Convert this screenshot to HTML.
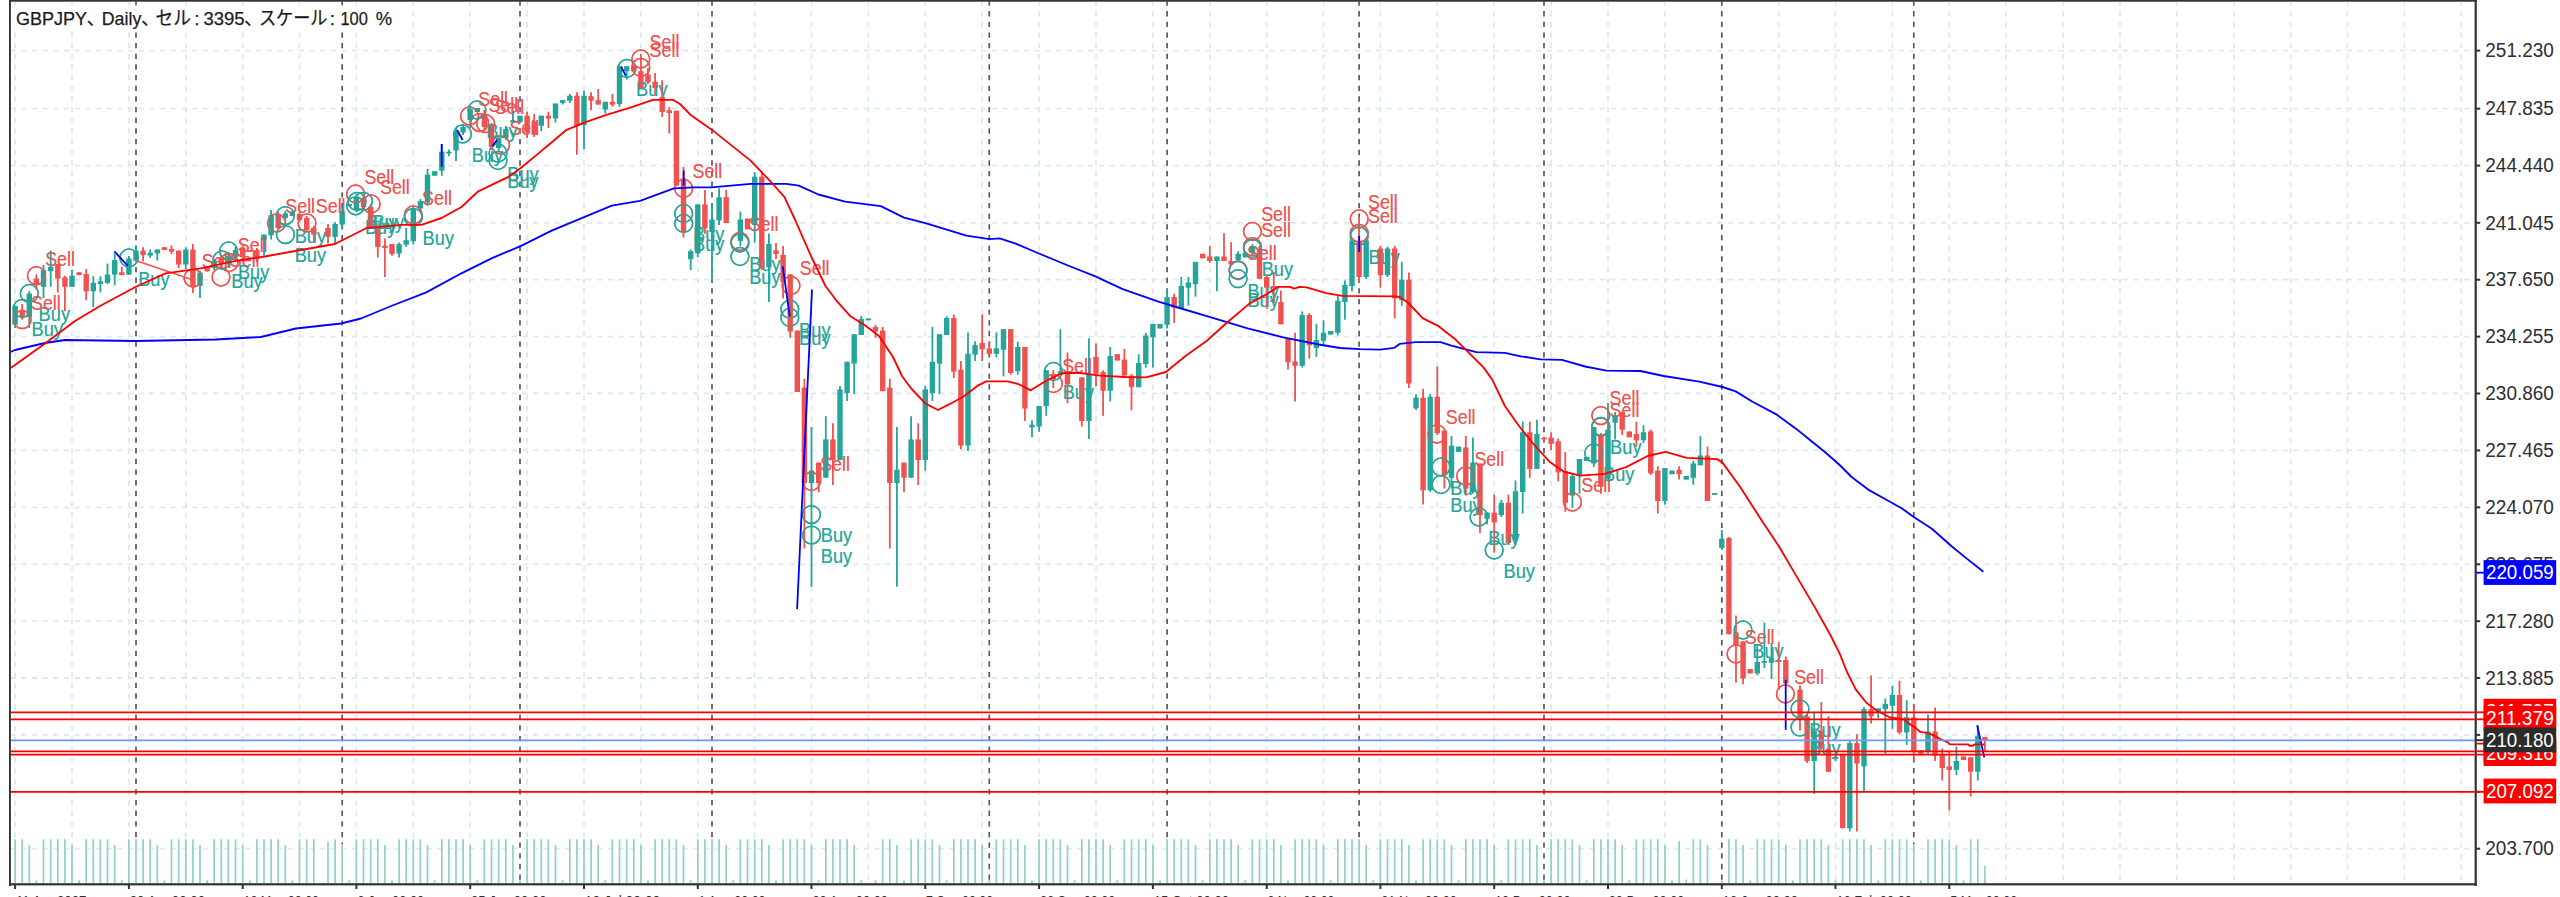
<!DOCTYPE html><html lang="ja"><head><meta charset="utf-8"><title>GBPJPY Daily</title><style>html,body{margin:0;padding:0;background:#fff;overflow:hidden}body{width:2560px;height:897px;position:relative}svg text{font-family:"Liberation Sans","Noto Sans CJK JP",sans-serif}</style></head><body><svg width="2560" height="897" viewBox="0 0 2560 897" style="position:absolute;left:0;top:0;display:block">
<rect width="2560" height="897" fill="#fff"/>
<defs><clipPath id="plot"><rect x="10.6" y="1.6" width="2464" height="882"/></clipPath><clipPath id="all"><rect x="0" y="0" width="2560" height="897"/></clipPath></defs>
<g clip-path="url(#plot)">
<g stroke="#dde9f2" stroke-width="1.8" stroke-dasharray="5.35 5.317" fill="none">
<path d="M15.1 0.3V880"/>
<path d="M72.0 0.3V880"/>
<path d="M128.9 0.3V880"/>
<path d="M185.8 0.3V880"/>
<path d="M242.7 0.3V880"/>
<path d="M299.5 0.3V880"/>
<path d="M356.4 0.3V880"/>
<path d="M413.3 0.3V880"/>
<path d="M470.2 0.3V880"/>
<path d="M527.1 0.3V880"/>
<path d="M584.0 0.3V880"/>
<path d="M640.9 0.3V880"/>
<path d="M697.8 0.3V880"/>
<path d="M754.7 0.3V880"/>
<path d="M811.5 0.3V880"/>
<path d="M868.4 0.3V880"/>
<path d="M925.3 0.3V880"/>
<path d="M982.2 0.3V880"/>
<path d="M1039.1 0.3V880"/>
<path d="M1096.0 0.3V880"/>
<path d="M1152.9 0.3V880"/>
<path d="M1209.8 0.3V880"/>
<path d="M1266.7 0.3V880"/>
<path d="M1323.5 0.3V880"/>
<path d="M1380.4 0.3V880"/>
<path d="M1437.3 0.3V880"/>
<path d="M1494.2 0.3V880"/>
<path d="M1551.1 0.3V880"/>
<path d="M1608.0 0.3V880"/>
<path d="M1664.9 0.3V880"/>
<path d="M1721.8 0.3V880"/>
<path d="M1778.7 0.3V880"/>
<path d="M1835.5 0.3V880"/>
<path d="M1892.4 0.3V880"/>
<path d="M1949.3 0.3V880"/>
<path d="M2006.2 0.3V880"/>
<path d="M2063.1 0.3V880"/>
<path d="M2120.0 0.3V880"/>
<path d="M2176.9 0.3V880"/>
<path d="M2233.8 0.3V880"/>
<path d="M2290.7 0.3V880"/>
<path d="M2347.5 0.3V880"/>
<path d="M2404.4 0.3V880"/>
<path d="M2461.3 0.3V880"/>
<path d="M10.5 50.6H2475"/>
<path d="M10.5 108.7H2475"/>
<path d="M10.5 165.6H2475"/>
<path d="M10.5 222.8H2475"/>
<path d="M10.5 279.7H2475"/>
<path d="M10.5 336.6H2475"/>
<path d="M10.5 393.5H2475"/>
<path d="M10.5 450.4H2475"/>
<path d="M10.5 507.3H2475"/>
<path d="M10.5 564.3H2475"/>
<path d="M10.5 621.2H2475"/>
<path d="M10.5 678.0H2475"/>
<path d="M10.5 734.9H2475"/>
<path d="M10.5 791.8H2475"/>
<path d="M10.5 848.7H2475"/>
</g>
<g stroke="#5a5763" stroke-width="1.7" stroke-dasharray="5.33 5.33" fill="none">
<path d="M136.0 0.4V838.7"/>
<path d="M342.2 0.4V844.5"/>
<path d="M520.0 0.4V879.7"/>
<path d="M712.0 0.4V838.7"/>
<path d="M989.3 0.4V879.7"/>
<path d="M1167.1 0.4V838.7"/>
<path d="M1359.1 0.4V838.7"/>
<path d="M1544.0 0.4V879.7"/>
<path d="M1721.8 0.4V879.7"/>
<path d="M1913.8 0.4V844.5"/>
</g>
<g stroke="#90d0c9" stroke-width="1.7" fill="none">
<path d="M15.1 839.2V884"/>
<path d="M22.2 839.2V884"/>
<path d="M29.3 845.0V884"/>
<path d="M36.4 880.2V884"/>
<path d="M43.5 839.2V884"/>
<path d="M50.7 839.2V884"/>
<path d="M57.8 839.2V884"/>
<path d="M64.9 839.2V884"/>
<path d="M72.0 845.0V884"/>
<path d="M79.1 880.2V884"/>
<path d="M86.2 839.2V884"/>
<path d="M93.3 839.2V884"/>
<path d="M100.4 839.2V884"/>
<path d="M107.5 839.2V884"/>
<path d="M114.7 845.0V884"/>
<path d="M121.8 880.2V884"/>
<path d="M128.9 839.2V884"/>
<path d="M136.0 839.2V884"/>
<path d="M143.1 839.2V884"/>
<path d="M150.2 839.2V884"/>
<path d="M157.3 845.0V884"/>
<path d="M164.4 880.2V884"/>
<path d="M171.5 839.2V884"/>
<path d="M178.7 839.2V884"/>
<path d="M185.8 839.2V884"/>
<path d="M192.9 839.2V884"/>
<path d="M200.0 845.0V884"/>
<path d="M207.1 880.2V884"/>
<path d="M214.2 839.2V884"/>
<path d="M221.3 839.2V884"/>
<path d="M228.4 839.2V884"/>
<path d="M235.5 839.2V884"/>
<path d="M242.7 845.0V884"/>
<path d="M249.8 880.2V884"/>
<path d="M256.9 839.2V884"/>
<path d="M264.0 839.2V884"/>
<path d="M271.1 839.2V884"/>
<path d="M278.2 839.2V884"/>
<path d="M285.3 845.0V884"/>
<path d="M292.4 880.2V884"/>
<path d="M299.5 839.2V884"/>
<path d="M306.7 839.2V884"/>
<path d="M313.8 839.2V884"/>
<path d="M328.0 841.8V884"/>
<path d="M335.1 839.2V884"/>
<path d="M342.2 845.0V884"/>
<path d="M349.3 880.2V884"/>
<path d="M356.4 839.2V884"/>
<path d="M363.5 839.2V884"/>
<path d="M370.7 839.2V884"/>
<path d="M377.8 839.2V884"/>
<path d="M384.9 845.0V884"/>
<path d="M392.0 880.2V884"/>
<path d="M399.1 839.2V884"/>
<path d="M406.2 839.2V884"/>
<path d="M413.3 839.2V884"/>
<path d="M420.4 839.2V884"/>
<path d="M427.5 845.0V884"/>
<path d="M434.7 880.2V884"/>
<path d="M441.8 839.2V884"/>
<path d="M448.9 839.2V884"/>
<path d="M456.0 839.2V884"/>
<path d="M463.1 839.2V884"/>
<path d="M470.2 845.0V884"/>
<path d="M477.3 880.2V884"/>
<path d="M484.4 839.2V884"/>
<path d="M491.5 839.2V884"/>
<path d="M498.7 839.2V884"/>
<path d="M505.8 839.2V884"/>
<path d="M512.9 845.0V884"/>
<path d="M520.0 880.2V884"/>
<path d="M527.1 839.2V884"/>
<path d="M534.2 839.2V884"/>
<path d="M541.3 839.2V884"/>
<path d="M548.4 839.2V884"/>
<path d="M555.5 845.0V884"/>
<path d="M562.7 880.2V884"/>
<path d="M569.8 839.2V884"/>
<path d="M576.9 839.2V884"/>
<path d="M584.0 839.2V884"/>
<path d="M591.1 839.2V884"/>
<path d="M598.2 845.0V884"/>
<path d="M605.3 880.2V884"/>
<path d="M612.4 839.2V884"/>
<path d="M619.5 839.2V884"/>
<path d="M626.7 839.2V884"/>
<path d="M633.8 839.2V884"/>
<path d="M640.9 845.0V884"/>
<path d="M648.0 880.2V884"/>
<path d="M655.1 839.2V884"/>
<path d="M662.2 839.2V884"/>
<path d="M669.3 839.2V884"/>
<path d="M676.4 839.2V884"/>
<path d="M683.5 845.0V884"/>
<path d="M690.7 880.2V884"/>
<path d="M697.8 839.2V884"/>
<path d="M704.9 839.2V884"/>
<path d="M712.0 839.2V884"/>
<path d="M719.1 839.2V884"/>
<path d="M726.2 845.0V884"/>
<path d="M733.3 880.2V884"/>
<path d="M740.4 839.2V884"/>
<path d="M747.5 839.2V884"/>
<path d="M754.7 839.2V884"/>
<path d="M761.8 839.2V884"/>
<path d="M768.9 845.0V884"/>
<path d="M776.0 880.2V884"/>
<path d="M783.1 839.2V884"/>
<path d="M790.2 839.2V884"/>
<path d="M797.3 839.2V884"/>
<path d="M804.4 839.2V884"/>
<path d="M811.5 845.0V884"/>
<path d="M818.7 880.2V884"/>
<path d="M825.8 839.2V884"/>
<path d="M832.9 839.2V884"/>
<path d="M840.0 839.2V884"/>
<path d="M847.1 839.2V884"/>
<path d="M854.2 845.0V884"/>
<path d="M861.3 880.2V884"/>
<path d="M875.5 880.2V884"/>
<path d="M882.7 839.2V884"/>
<path d="M889.8 839.2V884"/>
<path d="M896.9 845.0V884"/>
<path d="M904.0 880.2V884"/>
<path d="M911.1 839.2V884"/>
<path d="M918.2 839.2V884"/>
<path d="M925.3 839.2V884"/>
<path d="M932.4 839.2V884"/>
<path d="M939.5 845.0V884"/>
<path d="M946.7 880.2V884"/>
<path d="M953.8 839.2V884"/>
<path d="M960.9 839.2V884"/>
<path d="M968.0 839.2V884"/>
<path d="M975.1 839.2V884"/>
<path d="M982.2 845.0V884"/>
<path d="M989.3 880.2V884"/>
<path d="M996.4 839.2V884"/>
<path d="M1003.5 839.2V884"/>
<path d="M1010.7 839.2V884"/>
<path d="M1017.8 839.2V884"/>
<path d="M1024.9 845.0V884"/>
<path d="M1032.0 880.2V884"/>
<path d="M1039.1 839.2V884"/>
<path d="M1046.2 839.2V884"/>
<path d="M1053.3 839.2V884"/>
<path d="M1060.4 839.2V884"/>
<path d="M1067.5 845.0V884"/>
<path d="M1074.7 880.2V884"/>
<path d="M1081.8 839.2V884"/>
<path d="M1088.9 839.2V884"/>
<path d="M1096.0 839.2V884"/>
<path d="M1103.1 839.2V884"/>
<path d="M1110.2 845.0V884"/>
<path d="M1117.3 880.2V884"/>
<path d="M1124.4 839.2V884"/>
<path d="M1131.5 839.2V884"/>
<path d="M1138.7 839.2V884"/>
<path d="M1145.8 839.2V884"/>
<path d="M1152.9 845.0V884"/>
<path d="M1160.0 880.2V884"/>
<path d="M1167.1 839.2V884"/>
<path d="M1174.2 839.2V884"/>
<path d="M1181.3 839.2V884"/>
<path d="M1188.4 839.2V884"/>
<path d="M1195.5 845.0V884"/>
<path d="M1202.7 880.2V884"/>
<path d="M1209.8 839.2V884"/>
<path d="M1216.9 839.2V884"/>
<path d="M1224.0 839.2V884"/>
<path d="M1231.1 839.2V884"/>
<path d="M1238.2 845.0V884"/>
<path d="M1245.3 880.2V884"/>
<path d="M1252.4 839.2V884"/>
<path d="M1259.5 839.2V884"/>
<path d="M1266.7 839.2V884"/>
<path d="M1273.8 839.2V884"/>
<path d="M1280.9 845.0V884"/>
<path d="M1288.0 880.2V884"/>
<path d="M1295.1 839.2V884"/>
<path d="M1302.2 839.2V884"/>
<path d="M1309.3 839.2V884"/>
<path d="M1316.4 839.2V884"/>
<path d="M1323.5 845.0V884"/>
<path d="M1330.7 880.2V884"/>
<path d="M1337.8 839.2V884"/>
<path d="M1344.9 839.2V884"/>
<path d="M1352.0 839.2V884"/>
<path d="M1359.1 839.2V884"/>
<path d="M1366.2 845.0V884"/>
<path d="M1373.3 880.2V884"/>
<path d="M1380.4 839.2V884"/>
<path d="M1387.5 839.2V884"/>
<path d="M1394.7 839.2V884"/>
<path d="M1401.8 839.2V884"/>
<path d="M1408.9 845.0V884"/>
<path d="M1416.0 880.2V884"/>
<path d="M1423.1 839.2V884"/>
<path d="M1430.2 839.2V884"/>
<path d="M1437.3 839.2V884"/>
<path d="M1444.4 839.2V884"/>
<path d="M1451.5 845.0V884"/>
<path d="M1458.7 880.2V884"/>
<path d="M1465.8 839.2V884"/>
<path d="M1472.9 839.2V884"/>
<path d="M1480.0 839.2V884"/>
<path d="M1487.1 839.2V884"/>
<path d="M1494.2 845.0V884"/>
<path d="M1501.3 880.2V884"/>
<path d="M1508.4 839.2V884"/>
<path d="M1515.5 839.2V884"/>
<path d="M1522.7 839.2V884"/>
<path d="M1529.8 839.2V884"/>
<path d="M1536.9 845.0V884"/>
<path d="M1544.0 880.2V884"/>
<path d="M1551.1 839.2V884"/>
<path d="M1558.2 839.2V884"/>
<path d="M1565.3 839.2V884"/>
<path d="M1572.4 839.2V884"/>
<path d="M1579.5 845.0V884"/>
<path d="M1586.7 880.2V884"/>
<path d="M1593.8 839.2V884"/>
<path d="M1600.9 839.2V884"/>
<path d="M1608.0 839.2V884"/>
<path d="M1615.1 839.2V884"/>
<path d="M1622.2 845.0V884"/>
<path d="M1629.3 880.2V884"/>
<path d="M1636.4 839.2V884"/>
<path d="M1643.5 839.2V884"/>
<path d="M1650.7 839.2V884"/>
<path d="M1657.8 839.2V884"/>
<path d="M1664.9 845.0V884"/>
<path d="M1672.0 880.2V884"/>
<path d="M1679.1 841.0V884"/>
<path d="M1686.2 879.5V884"/>
<path d="M1693.3 839.2V884"/>
<path d="M1700.4 839.2V884"/>
<path d="M1707.5 845.0V884"/>
<path d="M1721.8 880.2V884"/>
<path d="M1728.9 839.2V884"/>
<path d="M1736.0 839.2V884"/>
<path d="M1743.1 845.0V884"/>
<path d="M1750.2 880.2V884"/>
<path d="M1757.3 839.2V884"/>
<path d="M1764.4 839.2V884"/>
<path d="M1771.5 839.2V884"/>
<path d="M1778.7 839.2V884"/>
<path d="M1785.8 845.0V884"/>
<path d="M1792.9 880.2V884"/>
<path d="M1800.0 839.2V884"/>
<path d="M1807.1 839.2V884"/>
<path d="M1814.2 839.2V884"/>
<path d="M1821.3 839.2V884"/>
<path d="M1828.4 845.0V884"/>
<path d="M1835.5 880.2V884"/>
<path d="M1842.7 839.2V884"/>
<path d="M1849.8 839.2V884"/>
<path d="M1856.9 839.2V884"/>
<path d="M1864.0 839.2V884"/>
<path d="M1871.1 845.0V884"/>
<path d="M1878.2 880.2V884"/>
<path d="M1885.3 839.2V884"/>
<path d="M1892.4 839.2V884"/>
<path d="M1899.5 839.2V884"/>
<path d="M1906.7 839.2V884"/>
<path d="M1913.8 845.0V884"/>
<path d="M1920.9 880.2V884"/>
<path d="M1928.0 839.2V884"/>
<path d="M1935.1 839.2V884"/>
<path d="M1942.2 839.2V884"/>
<path d="M1949.3 839.2V884"/>
<path d="M1956.4 845.0V884"/>
<path d="M1963.5 880.2V884"/>
<path d="M1970.7 839.2V884"/>
<path d="M1977.8 839.2V884"/>
<path d="M1984.9 866.0V884"/>
</g>
<circle cx="29.3" cy="293.5" r="8.9" fill="none" stroke="#26a69a" stroke-width="1.5"/>
<circle cx="22.2" cy="308.5" r="8.9" fill="none" stroke="#26a69a" stroke-width="1.5"/>
<circle cx="22.2" cy="319.7" r="8.9" fill="none" stroke="#ef5350" stroke-width="1.5"/>
<circle cx="36.4" cy="275.7" r="8.9" fill="none" stroke="#ef5350" stroke-width="1.5"/>
<circle cx="128.9" cy="258.0" r="8.9" fill="none" stroke="#26a69a" stroke-width="1.5"/>
<circle cx="193.0" cy="278.0" r="8.9" fill="none" stroke="#ef5350" stroke-width="1.5"/>
<circle cx="221.0" cy="277.0" r="8.9" fill="none" stroke="#ef5350" stroke-width="1.5"/>
<circle cx="228.6" cy="251.0" r="8.9" fill="none" stroke="#26a69a" stroke-width="1.5"/>
<circle cx="229.0" cy="262.5" r="8.9" fill="none" stroke="#ef5350" stroke-width="1.5"/>
<circle cx="222.0" cy="260.0" r="8.9" fill="none" stroke="#26a69a" stroke-width="1.5"/>
<circle cx="276.5" cy="223.0" r="8.9" fill="none" stroke="#ef5350" stroke-width="1.5"/>
<circle cx="285.4" cy="215.6" r="8.9" fill="none" stroke="#26a69a" stroke-width="1.5"/>
<circle cx="285.4" cy="234.6" r="8.9" fill="none" stroke="#26a69a" stroke-width="1.5"/>
<circle cx="307.0" cy="223.0" r="8.9" fill="none" stroke="#ef5350" stroke-width="1.5"/>
<circle cx="355.6" cy="194.0" r="8.9" fill="none" stroke="#ef5350" stroke-width="1.5"/>
<circle cx="363.4" cy="201.3" r="8.9" fill="none" stroke="#26a69a" stroke-width="1.5"/>
<circle cx="371.2" cy="204.0" r="8.9" fill="none" stroke="#ef5350" stroke-width="1.5"/>
<circle cx="355.6" cy="205.8" r="8.9" fill="none" stroke="#26a69a" stroke-width="1.5"/>
<circle cx="357.0" cy="201.5" r="8.9" fill="none" stroke="#26a69a" stroke-width="1.5"/>
<circle cx="413.3" cy="215.0" r="8.9" fill="none" stroke="#ef5350" stroke-width="1.5"/>
<circle cx="413.3" cy="217.3" r="8.9" fill="none" stroke="#26a69a" stroke-width="1.5"/>
<circle cx="462.5" cy="134.0" r="8.9" fill="none" stroke="#26a69a" stroke-width="1.5"/>
<circle cx="500.6" cy="145.0" r="8.9" fill="none" stroke="#ef5350" stroke-width="1.5"/>
<circle cx="498.0" cy="153.0" r="8.9" fill="none" stroke="#26a69a" stroke-width="1.5"/>
<circle cx="498.0" cy="160.5" r="8.9" fill="none" stroke="#26a69a" stroke-width="1.5"/>
<circle cx="469.5" cy="116.0" r="8.9" fill="none" stroke="#ef5350" stroke-width="1.5"/>
<circle cx="485.7" cy="123.7" r="8.9" fill="none" stroke="#ef5350" stroke-width="1.5"/>
<circle cx="479.6" cy="122.6" r="8.9" fill="none" stroke="#ef5350" stroke-width="1.5"/>
<circle cx="477.0" cy="110.0" r="8.9" fill="none" stroke="#26a69a" stroke-width="1.5"/>
<circle cx="626.8" cy="68.5" r="8.9" fill="none" stroke="#26a69a" stroke-width="1.5"/>
<circle cx="640.8" cy="59.0" r="8.9" fill="none" stroke="#ef5350" stroke-width="1.5"/>
<circle cx="640.8" cy="67.5" r="8.9" fill="none" stroke="#ef5350" stroke-width="1.5"/>
<circle cx="683.7" cy="188.5" r="8.9" fill="none" stroke="#ef5350" stroke-width="1.5"/>
<circle cx="683.7" cy="213.5" r="8.9" fill="none" stroke="#26a69a" stroke-width="1.5"/>
<circle cx="683.7" cy="223.5" r="8.9" fill="none" stroke="#26a69a" stroke-width="1.5"/>
<circle cx="739.9" cy="241.5" r="8.9" fill="none" stroke="#ef5350" stroke-width="1.5"/>
<circle cx="739.9" cy="243.0" r="8.9" fill="none" stroke="#26a69a" stroke-width="1.5"/>
<circle cx="739.9" cy="256.5" r="8.9" fill="none" stroke="#26a69a" stroke-width="1.5"/>
<circle cx="791.0" cy="285.5" r="8.9" fill="none" stroke="#ef5350" stroke-width="1.5"/>
<circle cx="789.8" cy="309.2" r="8.9" fill="none" stroke="#26a69a" stroke-width="1.5"/>
<circle cx="789.8" cy="317.5" r="8.9" fill="none" stroke="#26a69a" stroke-width="1.5"/>
<circle cx="811.4" cy="481.5" r="8.9" fill="none" stroke="#ef5350" stroke-width="1.5"/>
<circle cx="811.5" cy="514.6" r="8.9" fill="none" stroke="#26a69a" stroke-width="1.5"/>
<circle cx="811.5" cy="535.1" r="8.9" fill="none" stroke="#26a69a" stroke-width="1.5"/>
<circle cx="1053.4" cy="371.5" r="8.9" fill="none" stroke="#26a69a" stroke-width="1.5"/>
<circle cx="1053.4" cy="383.5" r="8.9" fill="none" stroke="#ef5350" stroke-width="1.5"/>
<circle cx="1238.1" cy="270.0" r="8.9" fill="none" stroke="#ef5350" stroke-width="1.5"/>
<circle cx="1238.1" cy="270.5" r="8.9" fill="none" stroke="#26a69a" stroke-width="1.5"/>
<circle cx="1238.1" cy="278.7" r="8.9" fill="none" stroke="#26a69a" stroke-width="1.5"/>
<circle cx="1252.4" cy="231.5" r="8.9" fill="none" stroke="#ef5350" stroke-width="1.5"/>
<circle cx="1252.4" cy="246.7" r="8.9" fill="none" stroke="#ef5350" stroke-width="1.5"/>
<circle cx="1252.4" cy="248.5" r="8.9" fill="none" stroke="#26a69a" stroke-width="1.5"/>
<circle cx="1359.2" cy="219.0" r="8.9" fill="none" stroke="#ef5350" stroke-width="1.5"/>
<circle cx="1359.2" cy="233.3" r="8.9" fill="none" stroke="#ef5350" stroke-width="1.5"/>
<circle cx="1359.2" cy="236.0" r="8.9" fill="none" stroke="#26a69a" stroke-width="1.5"/>
<circle cx="1437.0" cy="434.0" r="8.9" fill="none" stroke="#ef5350" stroke-width="1.5"/>
<circle cx="1441.0" cy="467.0" r="8.9" fill="none" stroke="#26a69a" stroke-width="1.5"/>
<circle cx="1441.0" cy="484.5" r="8.9" fill="none" stroke="#26a69a" stroke-width="1.5"/>
<circle cx="1465.6" cy="476.0" r="8.9" fill="none" stroke="#ef5350" stroke-width="1.5"/>
<circle cx="1479.0" cy="517.0" r="8.9" fill="none" stroke="#26a69a" stroke-width="1.5"/>
<circle cx="1494.2" cy="550.0" r="8.9" fill="none" stroke="#26a69a" stroke-width="1.5"/>
<circle cx="1572.5" cy="502.0" r="8.9" fill="none" stroke="#ef5350" stroke-width="1.5"/>
<circle cx="1593.7" cy="453.0" r="8.9" fill="none" stroke="#26a69a" stroke-width="1.5"/>
<circle cx="1600.8" cy="415.6" r="8.9" fill="none" stroke="#ef5350" stroke-width="1.5"/>
<circle cx="1600.8" cy="427.0" r="8.9" fill="none" stroke="#ef5350" stroke-width="1.5"/>
<circle cx="1600.8" cy="426.5" r="8.9" fill="none" stroke="#26a69a" stroke-width="1.5"/>
<circle cx="1743.0" cy="630.0" r="8.9" fill="none" stroke="#26a69a" stroke-width="1.5"/>
<circle cx="1736.0" cy="654.0" r="8.9" fill="none" stroke="#ef5350" stroke-width="1.5"/>
<circle cx="1785.4" cy="694.0" r="8.9" fill="none" stroke="#ef5350" stroke-width="1.5"/>
<circle cx="1800.0" cy="709.0" r="8.9" fill="none" stroke="#26a69a" stroke-width="1.5"/>
<circle cx="1800.0" cy="727.2" r="8.9" fill="none" stroke="#26a69a" stroke-width="1.5"/>
<text x="38.6" y="321.3" fill="#26a69a" font-size="19.6" textLength="31.4" lengthAdjust="spacingAndGlyphs">Buy</text>
<text x="31.5" y="336.3" fill="#26a69a" font-size="19.6" textLength="31.4" lengthAdjust="spacingAndGlyphs">Buy</text>
<text x="31.0" y="309.5" fill="#ef5350" font-size="19.6" textLength="29.8" lengthAdjust="spacingAndGlyphs">Sell</text>
<text x="45.2" y="265.5" fill="#ef5350" font-size="19.6" textLength="29.8" lengthAdjust="spacingAndGlyphs">Sell</text>
<text x="138.2" y="285.8" fill="#26a69a" font-size="19.6" textLength="31.4" lengthAdjust="spacingAndGlyphs">Buy</text>
<text x="201.8" y="267.8" fill="#ef5350" font-size="19.6" textLength="29.8" lengthAdjust="spacingAndGlyphs">Sell</text>
<text x="229.8" y="266.8" fill="#ef5350" font-size="19.6" textLength="29.8" lengthAdjust="spacingAndGlyphs">Sell</text>
<text x="237.9" y="278.8" fill="#26a69a" font-size="19.6" textLength="31.4" lengthAdjust="spacingAndGlyphs">Buy</text>
<text x="237.8" y="252.3" fill="#ef5350" font-size="19.6" textLength="29.8" lengthAdjust="spacingAndGlyphs">Sell</text>
<text x="231.3" y="287.8" fill="#26a69a" font-size="19.6" textLength="31.4" lengthAdjust="spacingAndGlyphs">Buy</text>
<text x="285.3" y="212.8" fill="#ef5350" font-size="19.6" textLength="29.8" lengthAdjust="spacingAndGlyphs">Sell</text>
<text x="294.7" y="243.4" fill="#26a69a" font-size="19.6" textLength="31.4" lengthAdjust="spacingAndGlyphs">Buy</text>
<text x="294.7" y="262.4" fill="#26a69a" font-size="19.6" textLength="31.4" lengthAdjust="spacingAndGlyphs">Buy</text>
<text x="315.8" y="212.8" fill="#ef5350" font-size="19.6" textLength="29.8" lengthAdjust="spacingAndGlyphs">Sell</text>
<text x="364.4" y="183.8" fill="#ef5350" font-size="19.6" textLength="29.8" lengthAdjust="spacingAndGlyphs">Sell</text>
<text x="372.7" y="229.1" fill="#26a69a" font-size="19.6" textLength="31.4" lengthAdjust="spacingAndGlyphs">Buy</text>
<text x="380.0" y="193.8" fill="#ef5350" font-size="19.6" textLength="29.8" lengthAdjust="spacingAndGlyphs">Sell</text>
<text x="364.9" y="233.6" fill="#26a69a" font-size="19.6" textLength="31.4" lengthAdjust="spacingAndGlyphs">Buy</text>
<text x="366.3" y="229.3" fill="#26a69a" font-size="19.6" textLength="31.4" lengthAdjust="spacingAndGlyphs">Buy</text>
<text x="422.1" y="204.8" fill="#ef5350" font-size="19.6" textLength="29.8" lengthAdjust="spacingAndGlyphs">Sell</text>
<text x="422.6" y="245.1" fill="#26a69a" font-size="19.6" textLength="31.4" lengthAdjust="spacingAndGlyphs">Buy</text>
<text x="471.8" y="161.8" fill="#26a69a" font-size="19.6" textLength="31.4" lengthAdjust="spacingAndGlyphs">Buy</text>
<text x="509.4" y="134.8" fill="#ef5350" font-size="19.6" textLength="29.8" lengthAdjust="spacingAndGlyphs">Sell</text>
<text x="507.3" y="180.8" fill="#26a69a" font-size="19.6" textLength="31.4" lengthAdjust="spacingAndGlyphs">Buy</text>
<text x="507.3" y="188.3" fill="#26a69a" font-size="19.6" textLength="31.4" lengthAdjust="spacingAndGlyphs">Buy</text>
<text x="478.3" y="105.8" fill="#ef5350" font-size="19.6" textLength="29.8" lengthAdjust="spacingAndGlyphs">Sell</text>
<text x="494.5" y="113.5" fill="#ef5350" font-size="19.6" textLength="29.8" lengthAdjust="spacingAndGlyphs">Sell</text>
<text x="488.4" y="112.4" fill="#ef5350" font-size="19.6" textLength="29.8" lengthAdjust="spacingAndGlyphs">Sell</text>
<text x="486.3" y="137.8" fill="#26a69a" font-size="19.6" textLength="31.4" lengthAdjust="spacingAndGlyphs">Buy</text>
<text x="636.1" y="96.3" fill="#26a69a" font-size="19.6" textLength="31.4" lengthAdjust="spacingAndGlyphs">Buy</text>
<text x="649.6" y="48.8" fill="#ef5350" font-size="19.6" textLength="29.8" lengthAdjust="spacingAndGlyphs">Sell</text>
<text x="649.6" y="57.3" fill="#ef5350" font-size="19.6" textLength="29.8" lengthAdjust="spacingAndGlyphs">Sell</text>
<text x="692.5" y="178.3" fill="#ef5350" font-size="19.6" textLength="29.8" lengthAdjust="spacingAndGlyphs">Sell</text>
<text x="693.0" y="241.3" fill="#26a69a" font-size="19.6" textLength="31.4" lengthAdjust="spacingAndGlyphs">Buy</text>
<text x="693.0" y="251.3" fill="#26a69a" font-size="19.6" textLength="31.4" lengthAdjust="spacingAndGlyphs">Buy</text>
<text x="748.7" y="231.3" fill="#ef5350" font-size="19.6" textLength="29.8" lengthAdjust="spacingAndGlyphs">Sell</text>
<text x="749.2" y="270.8" fill="#26a69a" font-size="19.6" textLength="31.4" lengthAdjust="spacingAndGlyphs">Buy</text>
<text x="749.2" y="284.3" fill="#26a69a" font-size="19.6" textLength="31.4" lengthAdjust="spacingAndGlyphs">Buy</text>
<text x="799.8" y="275.3" fill="#ef5350" font-size="19.6" textLength="29.8" lengthAdjust="spacingAndGlyphs">Sell</text>
<text x="799.1" y="337.0" fill="#26a69a" font-size="19.6" textLength="31.4" lengthAdjust="spacingAndGlyphs">Buy</text>
<text x="799.1" y="345.3" fill="#26a69a" font-size="19.6" textLength="31.4" lengthAdjust="spacingAndGlyphs">Buy</text>
<text x="820.2" y="471.3" fill="#ef5350" font-size="19.6" textLength="29.8" lengthAdjust="spacingAndGlyphs">Sell</text>
<text x="820.8" y="542.4" fill="#26a69a" font-size="19.6" textLength="31.4" lengthAdjust="spacingAndGlyphs">Buy</text>
<text x="820.8" y="562.9" fill="#26a69a" font-size="19.6" textLength="31.4" lengthAdjust="spacingAndGlyphs">Buy</text>
<text x="1062.7" y="399.3" fill="#26a69a" font-size="19.6" textLength="31.4" lengthAdjust="spacingAndGlyphs">Buy</text>
<text x="1062.2" y="373.3" fill="#ef5350" font-size="19.6" textLength="29.8" lengthAdjust="spacingAndGlyphs">Sell</text>
<text x="1246.9" y="259.8" fill="#ef5350" font-size="19.6" textLength="29.8" lengthAdjust="spacingAndGlyphs">Sell</text>
<text x="1247.4" y="298.3" fill="#26a69a" font-size="19.6" textLength="31.4" lengthAdjust="spacingAndGlyphs">Buy</text>
<text x="1247.4" y="306.5" fill="#26a69a" font-size="19.6" textLength="31.4" lengthAdjust="spacingAndGlyphs">Buy</text>
<text x="1261.2" y="221.3" fill="#ef5350" font-size="19.6" textLength="29.8" lengthAdjust="spacingAndGlyphs">Sell</text>
<text x="1261.2" y="236.5" fill="#ef5350" font-size="19.6" textLength="29.8" lengthAdjust="spacingAndGlyphs">Sell</text>
<text x="1261.7" y="276.3" fill="#26a69a" font-size="19.6" textLength="31.4" lengthAdjust="spacingAndGlyphs">Buy</text>
<text x="1368.0" y="208.8" fill="#ef5350" font-size="19.6" textLength="29.8" lengthAdjust="spacingAndGlyphs">Sell</text>
<text x="1368.0" y="223.1" fill="#ef5350" font-size="19.6" textLength="29.8" lengthAdjust="spacingAndGlyphs">Sell</text>
<text x="1368.5" y="263.8" fill="#26a69a" font-size="19.6" textLength="31.4" lengthAdjust="spacingAndGlyphs">Buy</text>
<text x="1445.8" y="423.8" fill="#ef5350" font-size="19.6" textLength="29.8" lengthAdjust="spacingAndGlyphs">Sell</text>
<text x="1450.3" y="494.8" fill="#26a69a" font-size="19.6" textLength="31.4" lengthAdjust="spacingAndGlyphs">Buy</text>
<text x="1450.3" y="512.3" fill="#26a69a" font-size="19.6" textLength="31.4" lengthAdjust="spacingAndGlyphs">Buy</text>
<text x="1474.4" y="465.8" fill="#ef5350" font-size="19.6" textLength="29.8" lengthAdjust="spacingAndGlyphs">Sell</text>
<text x="1488.3" y="544.8" fill="#26a69a" font-size="19.6" textLength="31.4" lengthAdjust="spacingAndGlyphs">Buy</text>
<text x="1503.5" y="577.8" fill="#26a69a" font-size="19.6" textLength="31.4" lengthAdjust="spacingAndGlyphs">Buy</text>
<text x="1581.3" y="491.8" fill="#ef5350" font-size="19.6" textLength="29.8" lengthAdjust="spacingAndGlyphs">Sell</text>
<text x="1603.0" y="480.8" fill="#26a69a" font-size="19.6" textLength="31.4" lengthAdjust="spacingAndGlyphs">Buy</text>
<text x="1609.6" y="405.4" fill="#ef5350" font-size="19.6" textLength="29.8" lengthAdjust="spacingAndGlyphs">Sell</text>
<text x="1609.6" y="416.8" fill="#ef5350" font-size="19.6" textLength="29.8" lengthAdjust="spacingAndGlyphs">Sell</text>
<text x="1610.1" y="454.3" fill="#26a69a" font-size="19.6" textLength="31.4" lengthAdjust="spacingAndGlyphs">Buy</text>
<text x="1752.3" y="657.8" fill="#26a69a" font-size="19.6" textLength="31.4" lengthAdjust="spacingAndGlyphs">Buy</text>
<text x="1744.8" y="643.8" fill="#ef5350" font-size="19.6" textLength="29.8" lengthAdjust="spacingAndGlyphs">Sell</text>
<text x="1794.2" y="683.8" fill="#ef5350" font-size="19.6" textLength="29.8" lengthAdjust="spacingAndGlyphs">Sell</text>
<text x="1809.3" y="736.8" fill="#26a69a" font-size="19.6" textLength="31.4" lengthAdjust="spacingAndGlyphs">Buy</text>
<text x="1809.3" y="755.0" fill="#26a69a" font-size="19.6" textLength="31.4" lengthAdjust="spacingAndGlyphs">Buy</text>
<path d="M15.1 305.8V328.0" stroke="#26a69a" stroke-width="1.8"/><rect x="12.4" y="305.8" width="5.4" height="18.9" fill="#26a69a"/>
<path d="M22.2 304.1V319.7" stroke="#ef5350" stroke-width="1.8"/><rect x="19.5" y="309.7" width="5.4" height="7.2" fill="#ef5350"/>
<path d="M29.3 291.0V328.0" stroke="#26a69a" stroke-width="1.8"/><rect x="26.6" y="293.5" width="5.4" height="23.5" fill="#26a69a"/>
<path d="M36.4 274.6V289.0" stroke="#ef5350" stroke-width="1.8"/><rect x="33.7" y="278.5" width="5.4" height="6.1" fill="#ef5350"/>
<path d="M43.5 265.1V298.0" stroke="#26a69a" stroke-width="1.8"/><rect x="40.8" y="270.1" width="5.4" height="16.7" fill="#26a69a"/>
<path d="M50.7 250.6V286.8" stroke="#26a69a" stroke-width="1.8"/><rect x="48.0" y="266.8" width="5.4" height="4.4" fill="#26a69a"/>
<path d="M57.8 264.0V292.4" stroke="#ef5350" stroke-width="1.8"/><rect x="55.1" y="264.0" width="5.4" height="14.5" fill="#ef5350"/>
<path d="M64.9 275.7V311.3" stroke="#ef5350" stroke-width="1.8"/><rect x="62.2" y="277.3" width="5.4" height="9.5" fill="#ef5350"/>
<path d="M72.0 270.1V286.8" stroke="#26a69a" stroke-width="1.8"/><rect x="69.3" y="275.7" width="5.4" height="11.1" fill="#26a69a"/>
<path d="M79.1 272.3V275.1" stroke="#ef5350" stroke-width="1.8"/><rect x="76.4" y="272.3" width="5.4" height="2.8" fill="#ef5350"/>
<path d="M86.2 269.0V300.2" stroke="#ef5350" stroke-width="1.8"/><rect x="83.5" y="274.0" width="5.4" height="17.3" fill="#ef5350"/>
<path d="M93.3 276.2V306.9" stroke="#26a69a" stroke-width="1.8"/><rect x="90.6" y="282.9" width="5.4" height="8.4" fill="#26a69a"/>
<path d="M100.4 276.2V292.4" stroke="#26a69a" stroke-width="1.8"/><rect x="97.7" y="281.2" width="5.4" height="2.8" fill="#26a69a"/>
<path d="M107.5 263.4V284.0" stroke="#26a69a" stroke-width="1.8"/><rect x="104.8" y="274.6" width="5.4" height="8.3" fill="#26a69a"/>
<path d="M114.7 253.4V285.2" stroke="#26a69a" stroke-width="1.8"/><rect x="112.0" y="260.1" width="5.4" height="14.5" fill="#26a69a"/>
<path d="M121.8 266.8V275.1" stroke="#ef5350" stroke-width="1.8"/><rect x="119.1" y="272.3" width="5.4" height="2.8" fill="#ef5350"/>
<path d="M128.9 256.0V275.0" stroke="#26a69a" stroke-width="1.8"/><rect x="126.2" y="258.4" width="5.4" height="16.2" fill="#26a69a"/>
<path d="M136.0 245.6V261.7" stroke="#26a69a" stroke-width="1.8"/><rect x="133.3" y="250.6" width="5.4" height="10.0" fill="#26a69a"/>
<path d="M143.1 247.2V261.2" stroke="#ef5350" stroke-width="1.8"/><rect x="140.4" y="250.6" width="5.4" height="4.5" fill="#ef5350"/>
<path d="M150.2 249.5V257.8" stroke="#26a69a" stroke-width="1.8"/><rect x="147.5" y="252.8" width="5.4" height="2.8" fill="#26a69a"/>
<path d="M157.3 249.5V260.6" stroke="#26a69a" stroke-width="1.8"/><rect x="154.6" y="249.5" width="5.4" height="3.9" fill="#26a69a"/>
<path d="M164.4 247.2V250.0" stroke="#ef5350" stroke-width="1.8"/><rect x="161.7" y="247.2" width="5.4" height="2.8" fill="#ef5350"/>
<path d="M171.5 245.6V253.9" stroke="#ef5350" stroke-width="1.8"/><rect x="168.8" y="248.9" width="5.4" height="2.8" fill="#ef5350"/>
<path d="M178.7 250.6V267.9" stroke="#ef5350" stroke-width="1.8"/><rect x="176.0" y="250.6" width="5.4" height="13.9" fill="#ef5350"/>
<path d="M185.8 247.2V269.0" stroke="#26a69a" stroke-width="1.8"/><rect x="183.1" y="249.5" width="5.4" height="15.0" fill="#26a69a"/>
<path d="M192.9 243.9V293.0" stroke="#ef5350" stroke-width="1.8"/><rect x="190.2" y="249.5" width="5.4" height="37.3" fill="#ef5350"/>
<path d="M200.0 270.8V298.0" stroke="#26a69a" stroke-width="1.8"/><rect x="197.3" y="272.5" width="5.4" height="13.4" fill="#26a69a"/>
<path d="M207.1 267.5V271.4" stroke="#ef5350" stroke-width="1.8"/><rect x="204.4" y="267.5" width="5.4" height="3.9" fill="#ef5350"/>
<path d="M214.2 259.0V270.0" stroke="#26a69a" stroke-width="1.8"/><rect x="211.5" y="261.3" width="5.4" height="6.7" fill="#26a69a"/>
<path d="M221.3 255.0V268.0" stroke="#ef5350" stroke-width="1.8"/><rect x="218.6" y="258.0" width="5.4" height="6.0" fill="#ef5350"/>
<path d="M228.4 252.0V265.0" stroke="#26a69a" stroke-width="1.8"/><rect x="225.7" y="256.0" width="5.4" height="6.0" fill="#26a69a"/>
<path d="M235.5 247.0V260.0" stroke="#26a69a" stroke-width="1.8"/><rect x="232.8" y="250.0" width="5.4" height="7.0" fill="#26a69a"/>
<path d="M242.7 245.0V262.0" stroke="#ef5350" stroke-width="1.8"/><rect x="240.0" y="247.5" width="5.4" height="9.5" fill="#ef5350"/>
<path d="M249.8 250.0V252.0" stroke="#ef5350" stroke-width="1.8"/><rect x="247.1" y="250.0" width="5.4" height="2.0" fill="#ef5350"/>
<path d="M256.9 248.0V262.0" stroke="#ef5350" stroke-width="1.8"/><rect x="254.2" y="250.2" width="5.4" height="8.8" fill="#ef5350"/>
<path d="M264.0 234.6V255.8" stroke="#26a69a" stroke-width="1.8"/><rect x="261.3" y="234.6" width="5.4" height="5.6" fill="#26a69a"/>
<path d="M271.1 210.1V239.6" stroke="#26a69a" stroke-width="1.8"/><rect x="268.4" y="215.1" width="5.4" height="20.1" fill="#26a69a"/>
<path d="M278.2 212.0V230.0" stroke="#ef5350" stroke-width="1.8"/><rect x="275.5" y="214.0" width="5.4" height="14.0" fill="#ef5350"/>
<path d="M285.3 211.0V221.0" stroke="#26a69a" stroke-width="1.8"/><rect x="282.6" y="213.4" width="5.4" height="4.6" fill="#26a69a"/>
<path d="M292.4 212.0V216.0" stroke="#26a69a" stroke-width="1.8"/><rect x="289.7" y="212.0" width="5.4" height="4.0" fill="#26a69a"/>
<path d="M299.5 212.0V222.0" stroke="#ef5350" stroke-width="1.8"/><rect x="296.8" y="214.0" width="5.4" height="6.1" fill="#ef5350"/>
<path d="M306.7 216.0V232.0" stroke="#ef5350" stroke-width="1.8"/><rect x="304.0" y="217.9" width="5.4" height="12.2" fill="#ef5350"/>
<path d="M313.8 226.0V242.4" stroke="#ef5350" stroke-width="1.8"/><rect x="311.1" y="227.9" width="5.4" height="6.7" fill="#ef5350"/>
<path d="M328.0 224.0V243.5" stroke="#ef5350" stroke-width="1.8"/><rect x="325.3" y="227.9" width="5.4" height="8.9" fill="#ef5350"/>
<path d="M335.1 222.3V243.5" stroke="#26a69a" stroke-width="1.8"/><rect x="332.4" y="224.0" width="5.4" height="12.8" fill="#26a69a"/>
<path d="M342.2 203.4V229.0" stroke="#26a69a" stroke-width="1.8"/><rect x="339.5" y="211.2" width="5.4" height="13.4" fill="#26a69a"/>
<path d="M349.3 204.0V206.0" stroke="#26a69a" stroke-width="1.8"/><rect x="346.6" y="204.0" width="5.4" height="2.0" fill="#26a69a"/>
<path d="M356.4 194.0V212.0" stroke="#26a69a" stroke-width="1.8"/><rect x="353.7" y="196.7" width="5.4" height="13.3" fill="#26a69a"/>
<path d="M363.5 195.0V210.0" stroke="#ef5350" stroke-width="1.8"/><rect x="360.8" y="198.0" width="5.4" height="9.0" fill="#ef5350"/>
<path d="M370.7 204.0V229.0" stroke="#ef5350" stroke-width="1.8"/><rect x="368.0" y="206.7" width="5.4" height="21.2" fill="#ef5350"/>
<path d="M377.8 227.9V257.4" stroke="#ef5350" stroke-width="1.8"/><rect x="375.1" y="227.9" width="5.4" height="19.0" fill="#ef5350"/>
<path d="M384.9 238.5V277.0" stroke="#ef5350" stroke-width="1.8"/><rect x="382.2" y="245.7" width="5.4" height="2.3" fill="#ef5350"/>
<path d="M392.0 244.1V255.8" stroke="#ef5350" stroke-width="1.8"/><rect x="389.3" y="244.1" width="5.4" height="10.0" fill="#ef5350"/>
<path d="M399.1 242.4V257.4" stroke="#26a69a" stroke-width="1.8"/><rect x="396.4" y="244.1" width="5.4" height="9.4" fill="#26a69a"/>
<path d="M406.2 227.9V246.9" stroke="#26a69a" stroke-width="1.8"/><rect x="403.5" y="240.2" width="5.4" height="4.4" fill="#26a69a"/>
<path d="M413.3 206.7V244.6" stroke="#26a69a" stroke-width="1.8"/><rect x="410.6" y="208.4" width="5.4" height="32.9" fill="#26a69a"/>
<path d="M420.4 199.0V210.0" stroke="#26a69a" stroke-width="1.8"/><rect x="417.7" y="201.1" width="5.4" height="7.3" fill="#26a69a"/>
<path d="M427.5 169.0V205.8" stroke="#26a69a" stroke-width="1.8"/><rect x="424.8" y="174.6" width="5.4" height="27.9" fill="#26a69a"/>
<path d="M434.7 171.2V175.7" stroke="#26a69a" stroke-width="1.8"/><rect x="432.0" y="171.2" width="5.4" height="4.5" fill="#26a69a"/>
<path d="M441.8 143.9V175.7" stroke="#26a69a" stroke-width="1.8"/><rect x="439.1" y="151.7" width="5.4" height="19.0" fill="#26a69a"/>
<path d="M448.9 149.5V156.2" stroke="#26a69a" stroke-width="1.8"/><rect x="446.2" y="151.7" width="5.4" height="1.8" fill="#26a69a"/>
<path d="M456.0 128.0V161.0" stroke="#26a69a" stroke-width="1.8"/><rect x="453.3" y="132.0" width="5.4" height="18.5" fill="#26a69a"/>
<path d="M463.1 124.0V135.0" stroke="#26a69a" stroke-width="1.8"/><rect x="460.4" y="127.0" width="5.4" height="5.5" fill="#26a69a"/>
<path d="M470.2 106.0V128.0" stroke="#26a69a" stroke-width="1.8"/><rect x="467.5" y="109.0" width="5.4" height="11.0" fill="#26a69a"/>
<path d="M477.3 108.0V112.0" stroke="#26a69a" stroke-width="1.8"/><rect x="474.6" y="108.0" width="5.4" height="4.0" fill="#26a69a"/>
<path d="M484.4 110.0V130.0" stroke="#ef5350" stroke-width="1.8"/><rect x="481.7" y="113.5" width="5.4" height="13.5" fill="#ef5350"/>
<path d="M491.5 123.0V150.0" stroke="#ef5350" stroke-width="1.8"/><rect x="488.8" y="125.8" width="5.4" height="21.2" fill="#ef5350"/>
<path d="M498.7 135.0V152.0" stroke="#26a69a" stroke-width="1.8"/><rect x="496.0" y="138.0" width="5.4" height="10.0" fill="#26a69a"/>
<path d="M505.8 126.0V140.0" stroke="#26a69a" stroke-width="1.8"/><rect x="503.1" y="129.0" width="5.4" height="9.0" fill="#26a69a"/>
<path d="M512.9 110.2V122.4" stroke="#26a69a" stroke-width="1.8"/><rect x="510.2" y="120.2" width="5.4" height="2.2" fill="#26a69a"/>
<path d="M520.0 115.7V121.9" stroke="#26a69a" stroke-width="1.8"/><rect x="517.3" y="115.7" width="5.4" height="6.2" fill="#26a69a"/>
<path d="M527.1 111.8V138.0" stroke="#ef5350" stroke-width="1.8"/><rect x="524.4" y="115.7" width="5.4" height="16.8" fill="#ef5350"/>
<path d="M534.2 114.0V137.0" stroke="#ef5350" stroke-width="1.8"/><rect x="531.5" y="121.3" width="5.4" height="13.4" fill="#ef5350"/>
<path d="M541.3 115.7V131.3" stroke="#26a69a" stroke-width="1.8"/><rect x="538.6" y="115.7" width="5.4" height="10.1" fill="#26a69a"/>
<path d="M548.4 111.8V128.0" stroke="#ef5350" stroke-width="1.8"/><rect x="545.7" y="115.7" width="5.4" height="2.8" fill="#ef5350"/>
<path d="M555.5 103.5V122.4" stroke="#26a69a" stroke-width="1.8"/><rect x="552.8" y="103.5" width="5.4" height="15.0" fill="#26a69a"/>
<path d="M562.7 100.1V104.6" stroke="#26a69a" stroke-width="1.8"/><rect x="560.0" y="100.1" width="5.4" height="2.8" fill="#26a69a"/>
<path d="M569.8 94.0V102.9" stroke="#26a69a" stroke-width="1.8"/><rect x="567.1" y="95.7" width="5.4" height="5.0" fill="#26a69a"/>
<path d="M576.9 92.3V154.8" stroke="#ef5350" stroke-width="1.8"/><rect x="574.2" y="95.7" width="5.4" height="30.1" fill="#ef5350"/>
<path d="M584.0 90.7V149.2" stroke="#26a69a" stroke-width="1.8"/><rect x="581.3" y="95.7" width="5.4" height="29.5" fill="#26a69a"/>
<path d="M591.1 92.3V110.2" stroke="#ef5350" stroke-width="1.8"/><rect x="588.4" y="96.2" width="5.4" height="4.5" fill="#ef5350"/>
<path d="M598.2 89.0V104.6" stroke="#ef5350" stroke-width="1.8"/><rect x="595.5" y="100.1" width="5.4" height="4.5" fill="#ef5350"/>
<path d="M605.3 101.8V113.5" stroke="#26a69a" stroke-width="1.8"/><rect x="602.6" y="101.8" width="5.4" height="7.8" fill="#26a69a"/>
<path d="M612.4 94.0V106.8" stroke="#ef5350" stroke-width="1.8"/><rect x="609.7" y="101.8" width="5.4" height="2.8" fill="#ef5350"/>
<path d="M619.5 66.1V106.8" stroke="#26a69a" stroke-width="1.8"/><rect x="616.8" y="66.1" width="5.4" height="37.9" fill="#26a69a"/>
<path d="M626.7 66.2V79.6" stroke="#26a69a" stroke-width="1.8"/><rect x="624.0" y="66.2" width="5.4" height="5.0" fill="#26a69a"/>
<path d="M633.8 65.7V71.0" stroke="#ef5350" stroke-width="1.8"/><rect x="631.1" y="65.7" width="5.4" height="5.3" fill="#ef5350"/>
<path d="M640.9 54.0V88.0" stroke="#ef5350" stroke-width="1.8"/><rect x="638.2" y="71.2" width="5.4" height="16.8" fill="#ef5350"/>
<path d="M648.0 68.0V84.0" stroke="#ef5350" stroke-width="1.8"/><rect x="645.3" y="74.6" width="5.4" height="7.8" fill="#ef5350"/>
<path d="M655.1 72.9V95.8" stroke="#ef5350" stroke-width="1.8"/><rect x="652.4" y="81.8" width="5.4" height="6.2" fill="#ef5350"/>
<path d="M662.2 80.2V117.0" stroke="#ef5350" stroke-width="1.8"/><rect x="659.5" y="96.9" width="5.4" height="15.1" fill="#ef5350"/>
<path d="M669.3 106.9V133.6" stroke="#ef5350" stroke-width="1.8"/><rect x="666.6" y="110.3" width="5.4" height="2.7" fill="#ef5350"/>
<path d="M676.4 110.7V185.6" stroke="#ef5350" stroke-width="1.8"/><rect x="673.7" y="110.7" width="5.4" height="74.9" fill="#ef5350"/>
<path d="M683.5 167.0V237.4" stroke="#ef5350" stroke-width="1.8"/><rect x="680.8" y="178.5" width="5.4" height="53.5" fill="#ef5350"/>
<path d="M690.7 249.4V270.0" stroke="#26a69a" stroke-width="1.8"/><rect x="688.0" y="251.2" width="5.4" height="8.0" fill="#26a69a"/>
<path d="M697.8 204.4V257.0" stroke="#26a69a" stroke-width="1.8"/><rect x="695.1" y="204.4" width="5.4" height="49.0" fill="#26a69a"/>
<path d="M704.9 190.0V233.8" stroke="#ef5350" stroke-width="1.8"/><rect x="702.2" y="204.4" width="5.4" height="24.0" fill="#ef5350"/>
<path d="M712.0 203.5V281.5" stroke="#26a69a" stroke-width="1.8"/><rect x="709.3" y="219.5" width="5.4" height="12.5" fill="#26a69a"/>
<path d="M719.1 188.3V224.9" stroke="#26a69a" stroke-width="1.8"/><rect x="716.4" y="197.2" width="5.4" height="23.2" fill="#26a69a"/>
<path d="M726.2 190.0V223.0" stroke="#ef5350" stroke-width="1.8"/><rect x="723.5" y="197.2" width="5.4" height="25.8" fill="#ef5350"/>
<path d="M740.4 211.5V246.3" stroke="#26a69a" stroke-width="1.8"/><rect x="737.7" y="219.5" width="5.4" height="21.4" fill="#26a69a"/>
<path d="M747.5 218.6V229.3" stroke="#ef5350" stroke-width="1.8"/><rect x="744.8" y="218.6" width="5.4" height="10.7" fill="#ef5350"/>
<path d="M754.7 172.2V242.7" stroke="#26a69a" stroke-width="1.8"/><rect x="752.0" y="176.7" width="5.4" height="48.2" fill="#26a69a"/>
<path d="M761.8 172.2V270.0" stroke="#ef5350" stroke-width="1.8"/><rect x="759.1" y="176.7" width="5.4" height="91.5" fill="#ef5350"/>
<path d="M768.9 233.4V302.0" stroke="#26a69a" stroke-width="1.8"/><rect x="766.2" y="244.0" width="5.4" height="23.3" fill="#26a69a"/>
<path d="M776.0 243.0V259.0" stroke="#ef5350" stroke-width="1.8"/><rect x="773.3" y="250.3" width="5.4" height="3.7" fill="#ef5350"/>
<path d="M783.1 245.9V298.5" stroke="#ef5350" stroke-width="1.8"/><rect x="780.4" y="254.8" width="5.4" height="27.6" fill="#ef5350"/>
<path d="M790.2 274.4V337.7" stroke="#ef5350" stroke-width="1.8"/><rect x="787.5" y="274.4" width="5.4" height="57.1" fill="#ef5350"/>
<path d="M797.3 330.6V392.0" stroke="#ef5350" stroke-width="1.8"/><rect x="794.6" y="330.6" width="5.4" height="61.4" fill="#ef5350"/>
<path d="M804.4 378.7V548.5" stroke="#ef5350" stroke-width="1.8"/><rect x="801.7" y="387.6" width="5.4" height="95.4" fill="#ef5350"/>
<path d="M811.5 427.0V586.8" stroke="#26a69a" stroke-width="1.8"/><rect x="808.8" y="470.6" width="5.4" height="12.4" fill="#26a69a"/>
<path d="M818.7 462.6V492.3" stroke="#ef5350" stroke-width="1.8"/><rect x="816.0" y="462.6" width="5.4" height="20.4" fill="#ef5350"/>
<path d="M825.8 416.2V477.7" stroke="#26a69a" stroke-width="1.8"/><rect x="823.1" y="439.4" width="5.4" height="38.3" fill="#26a69a"/>
<path d="M832.9 423.3V485.0" stroke="#ef5350" stroke-width="1.8"/><rect x="830.2" y="439.4" width="5.4" height="20.6" fill="#ef5350"/>
<path d="M840.0 385.9V460.0" stroke="#26a69a" stroke-width="1.8"/><rect x="837.3" y="389.4" width="5.4" height="70.6" fill="#26a69a"/>
<path d="M847.1 361.8V401.0" stroke="#26a69a" stroke-width="1.8"/><rect x="844.4" y="361.8" width="5.4" height="31.2" fill="#26a69a"/>
<path d="M854.2 334.2V393.9" stroke="#26a69a" stroke-width="1.8"/><rect x="851.5" y="334.2" width="5.4" height="29.4" fill="#26a69a"/>
<path d="M861.3 316.0V335.0" stroke="#26a69a" stroke-width="1.8"/><rect x="858.6" y="319.0" width="5.4" height="16.0" fill="#26a69a"/>
<path d="M868.4 318.5V320.3" stroke="#26a69a" stroke-width="1.8"/><rect x="865.7" y="318.5" width="5.4" height="1.8" fill="#26a69a"/>
<path d="M875.5 325.0V337.7" stroke="#ef5350" stroke-width="1.8"/><rect x="872.8" y="327.0" width="5.4" height="4.5" fill="#ef5350"/>
<path d="M882.7 327.0V391.2" stroke="#ef5350" stroke-width="1.8"/><rect x="880.0" y="330.6" width="5.4" height="60.6" fill="#ef5350"/>
<path d="M889.8 378.7V548.5" stroke="#ef5350" stroke-width="1.8"/><rect x="887.1" y="387.6" width="5.4" height="95.4" fill="#ef5350"/>
<path d="M896.9 427.0V586.8" stroke="#26a69a" stroke-width="1.8"/><rect x="894.2" y="469.7" width="5.4" height="13.3" fill="#26a69a"/>
<path d="M904.0 462.6V492.3" stroke="#ef5350" stroke-width="1.8"/><rect x="901.3" y="462.6" width="5.4" height="15.1" fill="#ef5350"/>
<path d="M911.1 416.2V477.7" stroke="#26a69a" stroke-width="1.8"/><rect x="908.4" y="439.4" width="5.4" height="38.3" fill="#26a69a"/>
<path d="M918.2 423.3V485.0" stroke="#ef5350" stroke-width="1.8"/><rect x="915.5" y="439.4" width="5.4" height="20.6" fill="#ef5350"/>
<path d="M925.3 385.9V470.6" stroke="#26a69a" stroke-width="1.8"/><rect x="922.6" y="389.4" width="5.4" height="70.6" fill="#26a69a"/>
<path d="M932.4 327.0V401.0" stroke="#26a69a" stroke-width="1.8"/><rect x="929.7" y="361.8" width="5.4" height="31.2" fill="#26a69a"/>
<path d="M939.5 334.2V393.9" stroke="#26a69a" stroke-width="1.8"/><rect x="936.8" y="334.2" width="5.4" height="29.4" fill="#26a69a"/>
<path d="M946.7 316.3V335.0" stroke="#26a69a" stroke-width="1.8"/><rect x="944.0" y="318.0" width="5.4" height="17.0" fill="#26a69a"/>
<path d="M953.8 314.5V378.0" stroke="#ef5350" stroke-width="1.8"/><rect x="951.1" y="318.0" width="5.4" height="53.6" fill="#ef5350"/>
<path d="M960.9 361.0V449.2" stroke="#ef5350" stroke-width="1.8"/><rect x="958.2" y="369.8" width="5.4" height="75.8" fill="#ef5350"/>
<path d="M968.0 332.4V451.0" stroke="#26a69a" stroke-width="1.8"/><rect x="965.3" y="353.8" width="5.4" height="91.8" fill="#26a69a"/>
<path d="M975.1 341.3V361.0" stroke="#26a69a" stroke-width="1.8"/><rect x="972.4" y="344.9" width="5.4" height="9.8" fill="#26a69a"/>
<path d="M982.2 314.5V361.0" stroke="#ef5350" stroke-width="1.8"/><rect x="979.5" y="343.0" width="5.4" height="6.3" fill="#ef5350"/>
<path d="M989.3 341.3V355.6" stroke="#ef5350" stroke-width="1.8"/><rect x="986.6" y="348.4" width="5.4" height="5.4" fill="#ef5350"/>
<path d="M996.4 332.4V357.4" stroke="#26a69a" stroke-width="1.8"/><rect x="993.7" y="348.4" width="5.4" height="5.4" fill="#26a69a"/>
<path d="M1003.5 329.2V376.5" stroke="#26a69a" stroke-width="1.8"/><rect x="1000.8" y="329.2" width="5.4" height="20.6" fill="#26a69a"/>
<path d="M1010.7 329.2V374.7" stroke="#ef5350" stroke-width="1.8"/><rect x="1008.0" y="329.2" width="5.4" height="43.8" fill="#ef5350"/>
<path d="M1017.8 341.7V374.7" stroke="#26a69a" stroke-width="1.8"/><rect x="1015.1" y="347.0" width="5.4" height="24.2" fill="#26a69a"/>
<path d="M1024.9 347.0V421.0" stroke="#ef5350" stroke-width="1.8"/><rect x="1022.2" y="347.0" width="5.4" height="61.6" fill="#ef5350"/>
<path d="M1032.0 420.2V437.2" stroke="#26a69a" stroke-width="1.8"/><rect x="1029.3" y="424.7" width="5.4" height="2.7" fill="#26a69a"/>
<path d="M1039.1 406.0V431.8" stroke="#26a69a" stroke-width="1.8"/><rect x="1036.4" y="406.0" width="5.4" height="20.5" fill="#26a69a"/>
<path d="M1046.2 370.3V415.8" stroke="#26a69a" stroke-width="1.8"/><rect x="1043.5" y="370.3" width="5.4" height="35.7" fill="#26a69a"/>
<path d="M1053.3 370.0V388.0" stroke="#ef5350" stroke-width="1.8"/><rect x="1050.6" y="375.0" width="5.4" height="4.0" fill="#ef5350"/>
<path d="M1060.4 329.2V373.8" stroke="#26a69a" stroke-width="1.8"/><rect x="1057.7" y="371.2" width="5.4" height="2.6" fill="#26a69a"/>
<path d="M1067.5 352.4V403.3" stroke="#ef5350" stroke-width="1.8"/><rect x="1064.8" y="371.2" width="5.4" height="13.3" fill="#ef5350"/>
<path d="M1081.8 377.4V426.5" stroke="#ef5350" stroke-width="1.8"/><rect x="1079.1" y="377.4" width="5.4" height="43.6" fill="#ef5350"/>
<path d="M1088.9 338.2V439.0" stroke="#26a69a" stroke-width="1.8"/><rect x="1086.2" y="373.8" width="5.4" height="47.2" fill="#26a69a"/>
<path d="M1096.0 343.5V386.3" stroke="#ef5350" stroke-width="1.8"/><rect x="1093.3" y="356.9" width="5.4" height="16.9" fill="#ef5350"/>
<path d="M1103.1 370.3V415.8" stroke="#ef5350" stroke-width="1.8"/><rect x="1100.4" y="372.0" width="5.4" height="18.8" fill="#ef5350"/>
<path d="M1110.2 347.0V401.5" stroke="#26a69a" stroke-width="1.8"/><rect x="1107.5" y="356.0" width="5.4" height="34.8" fill="#26a69a"/>
<path d="M1117.3 354.2V360.5" stroke="#ef5350" stroke-width="1.8"/><rect x="1114.6" y="354.2" width="5.4" height="6.3" fill="#ef5350"/>
<path d="M1124.4 348.9V375.6" stroke="#ef5350" stroke-width="1.8"/><rect x="1121.7" y="359.6" width="5.4" height="16.0" fill="#ef5350"/>
<path d="M1131.5 373.8V410.4" stroke="#ef5350" stroke-width="1.8"/><rect x="1128.8" y="375.6" width="5.4" height="11.6" fill="#ef5350"/>
<path d="M1138.7 354.2V387.2" stroke="#26a69a" stroke-width="1.8"/><rect x="1136.0" y="363.1" width="5.4" height="24.1" fill="#26a69a"/>
<path d="M1145.8 332.8V367.6" stroke="#26a69a" stroke-width="1.8"/><rect x="1143.1" y="335.5" width="5.4" height="28.5" fill="#26a69a"/>
<path d="M1152.9 323.9V367.6" stroke="#26a69a" stroke-width="1.8"/><rect x="1150.2" y="323.9" width="5.4" height="13.4" fill="#26a69a"/>
<path d="M1160.0 323.9V328.4" stroke="#26a69a" stroke-width="1.8"/><rect x="1157.3" y="323.9" width="5.4" height="4.5" fill="#26a69a"/>
<path d="M1167.1 289.5V328.4" stroke="#26a69a" stroke-width="1.8"/><rect x="1164.4" y="297.1" width="5.4" height="27.7" fill="#26a69a"/>
<path d="M1174.2 293.6V323.0" stroke="#ef5350" stroke-width="1.8"/><rect x="1171.5" y="297.1" width="5.4" height="10.7" fill="#ef5350"/>
<path d="M1181.3 277.0V308.2" stroke="#26a69a" stroke-width="1.8"/><rect x="1178.6" y="286.0" width="5.4" height="22.2" fill="#26a69a"/>
<path d="M1188.4 277.0V305.6" stroke="#26a69a" stroke-width="1.8"/><rect x="1185.7" y="282.4" width="5.4" height="5.3" fill="#26a69a"/>
<path d="M1195.5 261.9V296.6" stroke="#26a69a" stroke-width="1.8"/><rect x="1192.8" y="261.9" width="5.4" height="22.3" fill="#26a69a"/>
<path d="M1202.7 253.8V258.3" stroke="#ef5350" stroke-width="1.8"/><rect x="1200.0" y="253.8" width="5.4" height="4.5" fill="#ef5350"/>
<path d="M1209.8 245.8V262.8" stroke="#ef5350" stroke-width="1.8"/><rect x="1207.1" y="256.5" width="5.4" height="4.5" fill="#ef5350"/>
<path d="M1216.9 256.5V291.3" stroke="#26a69a" stroke-width="1.8"/><rect x="1214.2" y="256.5" width="5.4" height="4.5" fill="#26a69a"/>
<path d="M1224.0 233.3V261.0" stroke="#ef5350" stroke-width="1.8"/><rect x="1221.3" y="256.5" width="5.4" height="4.5" fill="#ef5350"/>
<path d="M1231.1 242.2V264.5" stroke="#ef5350" stroke-width="1.8"/><rect x="1228.4" y="261.0" width="5.4" height="3.5" fill="#ef5350"/>
<path d="M1238.2 251.2V262.0" stroke="#26a69a" stroke-width="1.8"/><rect x="1235.5" y="253.8" width="5.4" height="6.2" fill="#26a69a"/>
<path d="M1245.3 252.9V257.4" stroke="#26a69a" stroke-width="1.8"/><rect x="1242.6" y="252.9" width="5.4" height="4.5" fill="#26a69a"/>
<path d="M1252.4 244.0V255.0" stroke="#26a69a" stroke-width="1.8"/><rect x="1249.7" y="246.0" width="5.4" height="7.0" fill="#26a69a"/>
<path d="M1259.5 246.0V278.8" stroke="#ef5350" stroke-width="1.8"/><rect x="1256.8" y="248.5" width="5.4" height="30.3" fill="#ef5350"/>
<path d="M1266.7 275.0V309.0" stroke="#ef5350" stroke-width="1.8"/><rect x="1264.0" y="277.0" width="5.4" height="10.7" fill="#ef5350"/>
<path d="M1273.8 272.0V303.0" stroke="#ef5350" stroke-width="1.8"/><rect x="1271.1" y="286.0" width="5.4" height="2.0" fill="#ef5350"/>
<path d="M1280.9 290.4V324.3" stroke="#ef5350" stroke-width="1.8"/><rect x="1278.2" y="302.0" width="5.4" height="22.3" fill="#ef5350"/>
<path d="M1288.0 339.0V369.4" stroke="#ef5350" stroke-width="1.8"/><rect x="1285.3" y="339.0" width="5.4" height="23.2" fill="#ef5350"/>
<path d="M1295.1 332.8V401.5" stroke="#ef5350" stroke-width="1.8"/><rect x="1292.4" y="361.4" width="5.4" height="4.4" fill="#ef5350"/>
<path d="M1302.2 311.4V367.6" stroke="#26a69a" stroke-width="1.8"/><rect x="1299.5" y="315.0" width="5.4" height="50.8" fill="#26a69a"/>
<path d="M1309.3 313.2V358.7" stroke="#ef5350" stroke-width="1.8"/><rect x="1306.6" y="315.0" width="5.4" height="30.3" fill="#ef5350"/>
<path d="M1316.4 323.9V356.9" stroke="#26a69a" stroke-width="1.8"/><rect x="1313.7" y="340.0" width="5.4" height="8.0" fill="#26a69a"/>
<path d="M1323.5 320.3V344.4" stroke="#26a69a" stroke-width="1.8"/><rect x="1320.8" y="332.8" width="5.4" height="8.0" fill="#26a69a"/>
<path d="M1330.7 331.0V334.6" stroke="#26a69a" stroke-width="1.8"/><rect x="1328.0" y="331.0" width="5.4" height="3.6" fill="#26a69a"/>
<path d="M1337.8 295.4V335.5" stroke="#26a69a" stroke-width="1.8"/><rect x="1335.1" y="300.7" width="5.4" height="32.1" fill="#26a69a"/>
<path d="M1344.9 280.6V319.8" stroke="#26a69a" stroke-width="1.8"/><rect x="1342.2" y="285.0" width="5.4" height="17.0" fill="#26a69a"/>
<path d="M1352.0 240.5V291.3" stroke="#26a69a" stroke-width="1.8"/><rect x="1349.3" y="240.5" width="5.4" height="45.5" fill="#26a69a"/>
<path d="M1359.1 217.0V282.4" stroke="#ef5350" stroke-width="1.8"/><rect x="1356.4" y="240.5" width="5.4" height="36.5" fill="#ef5350"/>
<path d="M1366.2 240.5V279.0" stroke="#26a69a" stroke-width="1.8"/><rect x="1363.5" y="240.5" width="5.4" height="36.5" fill="#26a69a"/>
<path d="M1380.4 245.8V287.7" stroke="#ef5350" stroke-width="1.8"/><rect x="1377.7" y="248.5" width="5.4" height="26.7" fill="#ef5350"/>
<path d="M1387.5 246.7V277.0" stroke="#26a69a" stroke-width="1.8"/><rect x="1384.8" y="248.5" width="5.4" height="26.7" fill="#26a69a"/>
<path d="M1394.7 245.8V318.4" stroke="#ef5350" stroke-width="1.8"/><rect x="1392.0" y="248.5" width="5.4" height="49.9" fill="#ef5350"/>
<path d="M1401.8 261.9V305.9" stroke="#26a69a" stroke-width="1.8"/><rect x="1399.1" y="279.7" width="5.4" height="20.5" fill="#26a69a"/>
<path d="M1408.9 272.6V387.9" stroke="#ef5350" stroke-width="1.8"/><rect x="1406.2" y="279.7" width="5.4" height="103.8" fill="#ef5350"/>
<path d="M1416.0 394.2V410.0" stroke="#26a69a" stroke-width="1.8"/><rect x="1413.3" y="397.7" width="5.4" height="10.7" fill="#26a69a"/>
<path d="M1423.1 388.8V504.5" stroke="#ef5350" stroke-width="1.8"/><rect x="1420.4" y="397.7" width="5.4" height="92.6" fill="#ef5350"/>
<path d="M1430.2 394.2V492.0" stroke="#26a69a" stroke-width="1.8"/><rect x="1427.5" y="396.8" width="5.4" height="93.5" fill="#26a69a"/>
<path d="M1437.3 366.5V435.0" stroke="#ef5350" stroke-width="1.8"/><rect x="1434.6" y="396.8" width="5.4" height="36.4" fill="#ef5350"/>
<path d="M1444.4 430.5V488.5" stroke="#ef5350" stroke-width="1.8"/><rect x="1441.7" y="430.5" width="5.4" height="44.6" fill="#ef5350"/>
<path d="M1451.5 435.9V488.5" stroke="#26a69a" stroke-width="1.8"/><rect x="1448.8" y="445.7" width="5.4" height="32.1" fill="#26a69a"/>
<path d="M1458.7 446.6V451.9" stroke="#26a69a" stroke-width="1.8"/><rect x="1456.0" y="446.6" width="5.4" height="5.3" fill="#26a69a"/>
<path d="M1465.8 435.9V495.6" stroke="#ef5350" stroke-width="1.8"/><rect x="1463.1" y="447.5" width="5.4" height="41.0" fill="#ef5350"/>
<path d="M1472.9 437.6V493.8" stroke="#26a69a" stroke-width="1.8"/><rect x="1470.2" y="462.6" width="5.4" height="29.4" fill="#26a69a"/>
<path d="M1480.0 463.5V533.0" stroke="#ef5350" stroke-width="1.8"/><rect x="1477.3" y="463.5" width="5.4" height="51.7" fill="#ef5350"/>
<path d="M1487.1 512.6V524.2" stroke="#26a69a" stroke-width="1.8"/><rect x="1484.4" y="512.6" width="5.4" height="6.2" fill="#26a69a"/>
<path d="M1494.2 494.7V552.7" stroke="#ef5350" stroke-width="1.8"/><rect x="1491.5" y="512.6" width="5.4" height="9.8" fill="#ef5350"/>
<path d="M1501.3 500.0V517.0" stroke="#26a69a" stroke-width="1.8"/><rect x="1498.6" y="502.8" width="5.4" height="12.4" fill="#26a69a"/>
<path d="M1508.4 494.7V542.9" stroke="#ef5350" stroke-width="1.8"/><rect x="1505.7" y="502.8" width="5.4" height="40.1" fill="#ef5350"/>
<path d="M1515.5 480.5V544.7" stroke="#26a69a" stroke-width="1.8"/><rect x="1512.8" y="491.2" width="5.4" height="49.0" fill="#26a69a"/>
<path d="M1522.7 421.6V513.5" stroke="#26a69a" stroke-width="1.8"/><rect x="1520.0" y="432.3" width="5.4" height="59.7" fill="#26a69a"/>
<path d="M1529.8 421.6V477.8" stroke="#ef5350" stroke-width="1.8"/><rect x="1527.1" y="432.3" width="5.4" height="36.6" fill="#ef5350"/>
<path d="M1536.9 419.8V468.9" stroke="#26a69a" stroke-width="1.8"/><rect x="1534.2" y="434.0" width="5.4" height="34.9" fill="#26a69a"/>
<path d="M1544.0 436.7V441.2" stroke="#ef5350" stroke-width="1.8"/><rect x="1541.3" y="437.6" width="5.4" height="1.8" fill="#ef5350"/>
<path d="M1551.1 432.3V450.1" stroke="#ef5350" stroke-width="1.8"/><rect x="1548.4" y="437.6" width="5.4" height="6.3" fill="#ef5350"/>
<path d="M1558.2 438.5V481.4" stroke="#ef5350" stroke-width="1.8"/><rect x="1555.5" y="441.2" width="5.4" height="31.2" fill="#ef5350"/>
<path d="M1565.3 451.9V511.7" stroke="#ef5350" stroke-width="1.8"/><rect x="1562.6" y="471.5" width="5.4" height="31.3" fill="#ef5350"/>
<path d="M1572.4 474.2V508.0" stroke="#26a69a" stroke-width="1.8"/><rect x="1569.7" y="476.0" width="5.4" height="19.6" fill="#26a69a"/>
<path d="M1579.5 459.0V493.8" stroke="#26a69a" stroke-width="1.8"/><rect x="1576.8" y="459.0" width="5.4" height="17.0" fill="#26a69a"/>
<path d="M1586.7 457.0V461.0" stroke="#26a69a" stroke-width="1.8"/><rect x="1584.0" y="457.0" width="5.4" height="4.0" fill="#26a69a"/>
<path d="M1593.8 427.0V467.1" stroke="#26a69a" stroke-width="1.8"/><rect x="1591.1" y="427.0" width="5.4" height="36.5" fill="#26a69a"/>
<path d="M1600.9 433.0V493.8" stroke="#ef5350" stroke-width="1.8"/><rect x="1598.2" y="435.0" width="5.4" height="51.7" fill="#ef5350"/>
<path d="M1608.0 403.0V478.7" stroke="#26a69a" stroke-width="1.8"/><rect x="1605.3" y="429.6" width="5.4" height="49.1" fill="#26a69a"/>
<path d="M1615.1 412.0V439.4" stroke="#26a69a" stroke-width="1.8"/><rect x="1612.4" y="415.6" width="5.4" height="7.1" fill="#26a69a"/>
<path d="M1622.2 412.0V435.1" stroke="#ef5350" stroke-width="1.8"/><rect x="1619.5" y="412.0" width="5.4" height="17.7" fill="#ef5350"/>
<path d="M1629.3 431.5V437.3" stroke="#ef5350" stroke-width="1.8"/><rect x="1626.6" y="431.5" width="5.4" height="5.8" fill="#ef5350"/>
<path d="M1636.4 421.6V446.6" stroke="#ef5350" stroke-width="1.8"/><rect x="1633.7" y="434.0" width="5.4" height="6.3" fill="#ef5350"/>
<path d="M1643.5 425.2V443.0" stroke="#26a69a" stroke-width="1.8"/><rect x="1640.8" y="432.3" width="5.4" height="8.0" fill="#26a69a"/>
<path d="M1650.7 429.6V475.1" stroke="#ef5350" stroke-width="1.8"/><rect x="1648.0" y="431.4" width="5.4" height="41.9" fill="#ef5350"/>
<path d="M1657.8 466.2V513.5" stroke="#ef5350" stroke-width="1.8"/><rect x="1655.1" y="470.6" width="5.4" height="30.4" fill="#ef5350"/>
<path d="M1664.9 468.0V504.5" stroke="#26a69a" stroke-width="1.8"/><rect x="1662.2" y="468.0" width="5.4" height="33.0" fill="#26a69a"/>
<path d="M1672.0 470.6V474.2" stroke="#26a69a" stroke-width="1.8"/><rect x="1669.3" y="470.6" width="5.4" height="3.6" fill="#26a69a"/>
<path d="M1679.1 466.2V479.6" stroke="#ef5350" stroke-width="1.8"/><rect x="1676.4" y="469.8" width="5.4" height="4.4" fill="#ef5350"/>
<path d="M1686.2 476.0V479.6" stroke="#26a69a" stroke-width="1.8"/><rect x="1683.5" y="476.0" width="5.4" height="3.6" fill="#26a69a"/>
<path d="M1693.3 460.8V484.9" stroke="#26a69a" stroke-width="1.8"/><rect x="1690.6" y="463.5" width="5.4" height="14.3" fill="#26a69a"/>
<path d="M1700.4 435.9V465.3" stroke="#26a69a" stroke-width="1.8"/><rect x="1697.7" y="455.5" width="5.4" height="9.8" fill="#26a69a"/>
<path d="M1707.5 446.6V501.0" stroke="#ef5350" stroke-width="1.8"/><rect x="1704.8" y="455.5" width="5.4" height="45.5" fill="#ef5350"/>
<path d="M1714.7 493.0V494.8" stroke="#26a69a" stroke-width="1.8"/><rect x="1712.0" y="493.0" width="5.4" height="1.8" fill="#26a69a"/>
<path d="M1721.8 530.0V549.4" stroke="#26a69a" stroke-width="1.8"/><rect x="1719.1" y="538.7" width="5.4" height="9.2" fill="#26a69a"/>
<path d="M1728.9 537.0V634.2" stroke="#ef5350" stroke-width="1.8"/><rect x="1726.2" y="538.0" width="5.4" height="96.2" fill="#ef5350"/>
<path d="M1736.0 615.4V682.5" stroke="#ef5350" stroke-width="1.8"/><rect x="1733.3" y="632.4" width="5.4" height="12.6" fill="#ef5350"/>
<path d="M1743.1 641.3V684.3" stroke="#ef5350" stroke-width="1.8"/><rect x="1740.4" y="641.3" width="5.4" height="37.2" fill="#ef5350"/>
<path d="M1750.2 669.0V673.4" stroke="#ef5350" stroke-width="1.8"/><rect x="1747.5" y="669.0" width="5.4" height="4.4" fill="#ef5350"/>
<path d="M1757.3 644.9V675.2" stroke="#26a69a" stroke-width="1.8"/><rect x="1754.6" y="661.8" width="5.4" height="11.6" fill="#26a69a"/>
<path d="M1764.4 622.6V668.0" stroke="#26a69a" stroke-width="1.8"/><rect x="1761.7" y="661.0" width="5.4" height="1.8" fill="#26a69a"/>
<path d="M1771.5 643.0V679.0" stroke="#26a69a" stroke-width="1.8"/><rect x="1768.8" y="658.2" width="5.4" height="4.5" fill="#26a69a"/>
<path d="M1778.7 642.2V690.0" stroke="#ef5350" stroke-width="1.8"/><rect x="1776.0" y="660.0" width="5.4" height="2.0" fill="#ef5350"/>
<path d="M1785.8 656.5V686.0" stroke="#ef5350" stroke-width="1.8"/><rect x="1783.1" y="660.0" width="5.4" height="23.4" fill="#ef5350"/>
<path d="M1800.0 685.2V730.6" stroke="#ef5350" stroke-width="1.8"/><rect x="1797.3" y="689.6" width="5.4" height="28.6" fill="#ef5350"/>
<path d="M1807.1 714.0V763.0" stroke="#ef5350" stroke-width="1.8"/><rect x="1804.4" y="716.4" width="5.4" height="44.6" fill="#ef5350"/>
<path d="M1814.2 712.8V794.0" stroke="#26a69a" stroke-width="1.8"/><rect x="1811.5" y="730.6" width="5.4" height="30.4" fill="#26a69a"/>
<path d="M1821.3 702.1V750.0" stroke="#ef5350" stroke-width="1.8"/><rect x="1818.6" y="730.6" width="5.4" height="17.9" fill="#ef5350"/>
<path d="M1828.4 716.4V771.7" stroke="#ef5350" stroke-width="1.8"/><rect x="1825.7" y="748.5" width="5.4" height="23.2" fill="#ef5350"/>
<path d="M1835.5 755.0V761.0" stroke="#26a69a" stroke-width="1.8"/><rect x="1832.8" y="757.0" width="5.4" height="2.0" fill="#26a69a"/>
<path d="M1842.7 753.8V828.2" stroke="#ef5350" stroke-width="1.8"/><rect x="1840.0" y="753.8" width="5.4" height="74.4" fill="#ef5350"/>
<path d="M1849.8 741.0V831.6" stroke="#26a69a" stroke-width="1.8"/><rect x="1847.1" y="743.1" width="5.4" height="85.1" fill="#26a69a"/>
<path d="M1856.9 734.2V831.6" stroke="#ef5350" stroke-width="1.8"/><rect x="1854.2" y="743.1" width="5.4" height="20.5" fill="#ef5350"/>
<path d="M1864.0 707.0V791.3" stroke="#26a69a" stroke-width="1.8"/><rect x="1861.3" y="709.2" width="5.4" height="57.1" fill="#26a69a"/>
<path d="M1871.1 675.4V723.5" stroke="#ef5350" stroke-width="1.8"/><rect x="1868.4" y="709.2" width="5.4" height="7.2" fill="#ef5350"/>
<path d="M1878.2 708.4V718.2" stroke="#26a69a" stroke-width="1.8"/><rect x="1875.5" y="708.4" width="5.4" height="3.6" fill="#26a69a"/>
<path d="M1885.3 698.5V753.8" stroke="#26a69a" stroke-width="1.8"/><rect x="1882.6" y="703.9" width="5.4" height="5.3" fill="#26a69a"/>
<path d="M1892.4 686.0V728.9" stroke="#26a69a" stroke-width="1.8"/><rect x="1889.7" y="695.0" width="5.4" height="10.7" fill="#26a69a"/>
<path d="M1899.5 680.7V734.2" stroke="#ef5350" stroke-width="1.8"/><rect x="1896.8" y="695.0" width="5.4" height="37.4" fill="#ef5350"/>
<path d="M1906.7 700.3V744.9" stroke="#26a69a" stroke-width="1.8"/><rect x="1904.0" y="717.3" width="5.4" height="15.1" fill="#26a69a"/>
<path d="M1913.8 703.9V761.9" stroke="#ef5350" stroke-width="1.8"/><rect x="1911.1" y="717.3" width="5.4" height="33.9" fill="#ef5350"/>
<path d="M1920.9 750.3V753.8" stroke="#ef5350" stroke-width="1.8"/><rect x="1918.2" y="750.3" width="5.4" height="3.5" fill="#ef5350"/>
<path d="M1928.0 714.6V753.8" stroke="#26a69a" stroke-width="1.8"/><rect x="1925.3" y="731.5" width="5.4" height="19.7" fill="#26a69a"/>
<path d="M1935.1 707.5V761.0" stroke="#ef5350" stroke-width="1.8"/><rect x="1932.4" y="731.5" width="5.4" height="24.1" fill="#ef5350"/>
<path d="M1942.2 748.5V780.6" stroke="#ef5350" stroke-width="1.8"/><rect x="1939.5" y="753.8" width="5.4" height="14.3" fill="#ef5350"/>
<path d="M1949.3 752.0V810.4" stroke="#ef5350" stroke-width="1.8"/><rect x="1946.6" y="766.3" width="5.4" height="3.6" fill="#ef5350"/>
<path d="M1956.4 746.7V775.2" stroke="#26a69a" stroke-width="1.8"/><rect x="1953.7" y="761.0" width="5.4" height="8.9" fill="#26a69a"/>
<path d="M1963.5 756.5V760.0" stroke="#ef5350" stroke-width="1.8"/><rect x="1960.8" y="756.5" width="5.4" height="3.5" fill="#ef5350"/>
<path d="M1970.7 757.4V796.6" stroke="#ef5350" stroke-width="1.8"/><rect x="1968.0" y="757.4" width="5.4" height="14.3" fill="#ef5350"/>
<path d="M1977.8 725.3V780.6" stroke="#26a69a" stroke-width="1.8"/><rect x="1975.1" y="736.0" width="5.4" height="35.7" fill="#26a69a"/>
<path d="M1984.9 736.9V752.0" stroke="#ef5350" stroke-width="1.8"/><rect x="1982.2" y="736.9" width="5.4" height="3.6" fill="#ef5350"/>
<g opacity="0.7">
<circle cx="29.3" cy="293.5" r="8.9" fill="none" stroke="#26a69a" stroke-width="1.5"/>
<circle cx="22.2" cy="308.5" r="8.9" fill="none" stroke="#26a69a" stroke-width="1.5"/>
<circle cx="22.2" cy="319.7" r="8.9" fill="none" stroke="#ef5350" stroke-width="1.5"/>
<circle cx="36.4" cy="275.7" r="8.9" fill="none" stroke="#ef5350" stroke-width="1.5"/>
<circle cx="128.9" cy="258.0" r="8.9" fill="none" stroke="#26a69a" stroke-width="1.5"/>
<circle cx="193.0" cy="278.0" r="8.9" fill="none" stroke="#ef5350" stroke-width="1.5"/>
<circle cx="221.0" cy="277.0" r="8.9" fill="none" stroke="#ef5350" stroke-width="1.5"/>
<circle cx="228.6" cy="251.0" r="8.9" fill="none" stroke="#26a69a" stroke-width="1.5"/>
<circle cx="229.0" cy="262.5" r="8.9" fill="none" stroke="#ef5350" stroke-width="1.5"/>
<circle cx="222.0" cy="260.0" r="8.9" fill="none" stroke="#26a69a" stroke-width="1.5"/>
<circle cx="276.5" cy="223.0" r="8.9" fill="none" stroke="#ef5350" stroke-width="1.5"/>
<circle cx="285.4" cy="215.6" r="8.9" fill="none" stroke="#26a69a" stroke-width="1.5"/>
<circle cx="285.4" cy="234.6" r="8.9" fill="none" stroke="#26a69a" stroke-width="1.5"/>
<circle cx="307.0" cy="223.0" r="8.9" fill="none" stroke="#ef5350" stroke-width="1.5"/>
<circle cx="355.6" cy="194.0" r="8.9" fill="none" stroke="#ef5350" stroke-width="1.5"/>
<circle cx="363.4" cy="201.3" r="8.9" fill="none" stroke="#26a69a" stroke-width="1.5"/>
<circle cx="371.2" cy="204.0" r="8.9" fill="none" stroke="#ef5350" stroke-width="1.5"/>
<circle cx="355.6" cy="205.8" r="8.9" fill="none" stroke="#26a69a" stroke-width="1.5"/>
<circle cx="357.0" cy="201.5" r="8.9" fill="none" stroke="#26a69a" stroke-width="1.5"/>
<circle cx="413.3" cy="215.0" r="8.9" fill="none" stroke="#ef5350" stroke-width="1.5"/>
<circle cx="413.3" cy="217.3" r="8.9" fill="none" stroke="#26a69a" stroke-width="1.5"/>
<circle cx="462.5" cy="134.0" r="8.9" fill="none" stroke="#26a69a" stroke-width="1.5"/>
<circle cx="500.6" cy="145.0" r="8.9" fill="none" stroke="#ef5350" stroke-width="1.5"/>
<circle cx="498.0" cy="153.0" r="8.9" fill="none" stroke="#26a69a" stroke-width="1.5"/>
<circle cx="498.0" cy="160.5" r="8.9" fill="none" stroke="#26a69a" stroke-width="1.5"/>
<circle cx="469.5" cy="116.0" r="8.9" fill="none" stroke="#ef5350" stroke-width="1.5"/>
<circle cx="485.7" cy="123.7" r="8.9" fill="none" stroke="#ef5350" stroke-width="1.5"/>
<circle cx="479.6" cy="122.6" r="8.9" fill="none" stroke="#ef5350" stroke-width="1.5"/>
<circle cx="477.0" cy="110.0" r="8.9" fill="none" stroke="#26a69a" stroke-width="1.5"/>
<circle cx="626.8" cy="68.5" r="8.9" fill="none" stroke="#26a69a" stroke-width="1.5"/>
<circle cx="640.8" cy="59.0" r="8.9" fill="none" stroke="#ef5350" stroke-width="1.5"/>
<circle cx="640.8" cy="67.5" r="8.9" fill="none" stroke="#ef5350" stroke-width="1.5"/>
<circle cx="683.7" cy="188.5" r="8.9" fill="none" stroke="#ef5350" stroke-width="1.5"/>
<circle cx="683.7" cy="213.5" r="8.9" fill="none" stroke="#26a69a" stroke-width="1.5"/>
<circle cx="683.7" cy="223.5" r="8.9" fill="none" stroke="#26a69a" stroke-width="1.5"/>
<circle cx="739.9" cy="241.5" r="8.9" fill="none" stroke="#ef5350" stroke-width="1.5"/>
<circle cx="739.9" cy="243.0" r="8.9" fill="none" stroke="#26a69a" stroke-width="1.5"/>
<circle cx="739.9" cy="256.5" r="8.9" fill="none" stroke="#26a69a" stroke-width="1.5"/>
<circle cx="791.0" cy="285.5" r="8.9" fill="none" stroke="#ef5350" stroke-width="1.5"/>
<circle cx="789.8" cy="309.2" r="8.9" fill="none" stroke="#26a69a" stroke-width="1.5"/>
<circle cx="789.8" cy="317.5" r="8.9" fill="none" stroke="#26a69a" stroke-width="1.5"/>
<circle cx="811.4" cy="481.5" r="8.9" fill="none" stroke="#ef5350" stroke-width="1.5"/>
<circle cx="811.5" cy="514.6" r="8.9" fill="none" stroke="#26a69a" stroke-width="1.5"/>
<circle cx="811.5" cy="535.1" r="8.9" fill="none" stroke="#26a69a" stroke-width="1.5"/>
<circle cx="1053.4" cy="371.5" r="8.9" fill="none" stroke="#26a69a" stroke-width="1.5"/>
<circle cx="1053.4" cy="383.5" r="8.9" fill="none" stroke="#ef5350" stroke-width="1.5"/>
<circle cx="1238.1" cy="270.0" r="8.9" fill="none" stroke="#ef5350" stroke-width="1.5"/>
<circle cx="1238.1" cy="270.5" r="8.9" fill="none" stroke="#26a69a" stroke-width="1.5"/>
<circle cx="1238.1" cy="278.7" r="8.9" fill="none" stroke="#26a69a" stroke-width="1.5"/>
<circle cx="1252.4" cy="231.5" r="8.9" fill="none" stroke="#ef5350" stroke-width="1.5"/>
<circle cx="1252.4" cy="246.7" r="8.9" fill="none" stroke="#ef5350" stroke-width="1.5"/>
<circle cx="1252.4" cy="248.5" r="8.9" fill="none" stroke="#26a69a" stroke-width="1.5"/>
<circle cx="1359.2" cy="219.0" r="8.9" fill="none" stroke="#ef5350" stroke-width="1.5"/>
<circle cx="1359.2" cy="233.3" r="8.9" fill="none" stroke="#ef5350" stroke-width="1.5"/>
<circle cx="1359.2" cy="236.0" r="8.9" fill="none" stroke="#26a69a" stroke-width="1.5"/>
<circle cx="1437.0" cy="434.0" r="8.9" fill="none" stroke="#ef5350" stroke-width="1.5"/>
<circle cx="1441.0" cy="467.0" r="8.9" fill="none" stroke="#26a69a" stroke-width="1.5"/>
<circle cx="1441.0" cy="484.5" r="8.9" fill="none" stroke="#26a69a" stroke-width="1.5"/>
<circle cx="1465.6" cy="476.0" r="8.9" fill="none" stroke="#ef5350" stroke-width="1.5"/>
<circle cx="1479.0" cy="517.0" r="8.9" fill="none" stroke="#26a69a" stroke-width="1.5"/>
<circle cx="1494.2" cy="550.0" r="8.9" fill="none" stroke="#26a69a" stroke-width="1.5"/>
<circle cx="1572.5" cy="502.0" r="8.9" fill="none" stroke="#ef5350" stroke-width="1.5"/>
<circle cx="1593.7" cy="453.0" r="8.9" fill="none" stroke="#26a69a" stroke-width="1.5"/>
<circle cx="1600.8" cy="415.6" r="8.9" fill="none" stroke="#ef5350" stroke-width="1.5"/>
<circle cx="1600.8" cy="427.0" r="8.9" fill="none" stroke="#ef5350" stroke-width="1.5"/>
<circle cx="1600.8" cy="426.5" r="8.9" fill="none" stroke="#26a69a" stroke-width="1.5"/>
<circle cx="1743.0" cy="630.0" r="8.9" fill="none" stroke="#26a69a" stroke-width="1.5"/>
<circle cx="1736.0" cy="654.0" r="8.9" fill="none" stroke="#ef5350" stroke-width="1.5"/>
<circle cx="1785.4" cy="694.0" r="8.9" fill="none" stroke="#ef5350" stroke-width="1.5"/>
<circle cx="1800.0" cy="709.0" r="8.9" fill="none" stroke="#26a69a" stroke-width="1.5"/>
<circle cx="1800.0" cy="727.2" r="8.9" fill="none" stroke="#26a69a" stroke-width="1.5"/>
</g><g opacity="0.45">
<text x="38.6" y="321.3" fill="#26a69a" font-size="19.6" textLength="31.4" lengthAdjust="spacingAndGlyphs">Buy</text>
<text x="31.5" y="336.3" fill="#26a69a" font-size="19.6" textLength="31.4" lengthAdjust="spacingAndGlyphs">Buy</text>
<text x="31.0" y="309.5" fill="#ef5350" font-size="19.6" textLength="29.8" lengthAdjust="spacingAndGlyphs">Sell</text>
<text x="45.2" y="265.5" fill="#ef5350" font-size="19.6" textLength="29.8" lengthAdjust="spacingAndGlyphs">Sell</text>
<text x="138.2" y="285.8" fill="#26a69a" font-size="19.6" textLength="31.4" lengthAdjust="spacingAndGlyphs">Buy</text>
<text x="201.8" y="267.8" fill="#ef5350" font-size="19.6" textLength="29.8" lengthAdjust="spacingAndGlyphs">Sell</text>
<text x="229.8" y="266.8" fill="#ef5350" font-size="19.6" textLength="29.8" lengthAdjust="spacingAndGlyphs">Sell</text>
<text x="237.9" y="278.8" fill="#26a69a" font-size="19.6" textLength="31.4" lengthAdjust="spacingAndGlyphs">Buy</text>
<text x="237.8" y="252.3" fill="#ef5350" font-size="19.6" textLength="29.8" lengthAdjust="spacingAndGlyphs">Sell</text>
<text x="231.3" y="287.8" fill="#26a69a" font-size="19.6" textLength="31.4" lengthAdjust="spacingAndGlyphs">Buy</text>
<text x="285.3" y="212.8" fill="#ef5350" font-size="19.6" textLength="29.8" lengthAdjust="spacingAndGlyphs">Sell</text>
<text x="294.7" y="243.4" fill="#26a69a" font-size="19.6" textLength="31.4" lengthAdjust="spacingAndGlyphs">Buy</text>
<text x="294.7" y="262.4" fill="#26a69a" font-size="19.6" textLength="31.4" lengthAdjust="spacingAndGlyphs">Buy</text>
<text x="315.8" y="212.8" fill="#ef5350" font-size="19.6" textLength="29.8" lengthAdjust="spacingAndGlyphs">Sell</text>
<text x="364.4" y="183.8" fill="#ef5350" font-size="19.6" textLength="29.8" lengthAdjust="spacingAndGlyphs">Sell</text>
<text x="372.7" y="229.1" fill="#26a69a" font-size="19.6" textLength="31.4" lengthAdjust="spacingAndGlyphs">Buy</text>
<text x="380.0" y="193.8" fill="#ef5350" font-size="19.6" textLength="29.8" lengthAdjust="spacingAndGlyphs">Sell</text>
<text x="364.9" y="233.6" fill="#26a69a" font-size="19.6" textLength="31.4" lengthAdjust="spacingAndGlyphs">Buy</text>
<text x="366.3" y="229.3" fill="#26a69a" font-size="19.6" textLength="31.4" lengthAdjust="spacingAndGlyphs">Buy</text>
<text x="422.1" y="204.8" fill="#ef5350" font-size="19.6" textLength="29.8" lengthAdjust="spacingAndGlyphs">Sell</text>
<text x="422.6" y="245.1" fill="#26a69a" font-size="19.6" textLength="31.4" lengthAdjust="spacingAndGlyphs">Buy</text>
<text x="471.8" y="161.8" fill="#26a69a" font-size="19.6" textLength="31.4" lengthAdjust="spacingAndGlyphs">Buy</text>
<text x="509.4" y="134.8" fill="#ef5350" font-size="19.6" textLength="29.8" lengthAdjust="spacingAndGlyphs">Sell</text>
<text x="507.3" y="180.8" fill="#26a69a" font-size="19.6" textLength="31.4" lengthAdjust="spacingAndGlyphs">Buy</text>
<text x="507.3" y="188.3" fill="#26a69a" font-size="19.6" textLength="31.4" lengthAdjust="spacingAndGlyphs">Buy</text>
<text x="478.3" y="105.8" fill="#ef5350" font-size="19.6" textLength="29.8" lengthAdjust="spacingAndGlyphs">Sell</text>
<text x="494.5" y="113.5" fill="#ef5350" font-size="19.6" textLength="29.8" lengthAdjust="spacingAndGlyphs">Sell</text>
<text x="488.4" y="112.4" fill="#ef5350" font-size="19.6" textLength="29.8" lengthAdjust="spacingAndGlyphs">Sell</text>
<text x="486.3" y="137.8" fill="#26a69a" font-size="19.6" textLength="31.4" lengthAdjust="spacingAndGlyphs">Buy</text>
<text x="636.1" y="96.3" fill="#26a69a" font-size="19.6" textLength="31.4" lengthAdjust="spacingAndGlyphs">Buy</text>
<text x="649.6" y="48.8" fill="#ef5350" font-size="19.6" textLength="29.8" lengthAdjust="spacingAndGlyphs">Sell</text>
<text x="649.6" y="57.3" fill="#ef5350" font-size="19.6" textLength="29.8" lengthAdjust="spacingAndGlyphs">Sell</text>
<text x="692.5" y="178.3" fill="#ef5350" font-size="19.6" textLength="29.8" lengthAdjust="spacingAndGlyphs">Sell</text>
<text x="693.0" y="241.3" fill="#26a69a" font-size="19.6" textLength="31.4" lengthAdjust="spacingAndGlyphs">Buy</text>
<text x="693.0" y="251.3" fill="#26a69a" font-size="19.6" textLength="31.4" lengthAdjust="spacingAndGlyphs">Buy</text>
<text x="748.7" y="231.3" fill="#ef5350" font-size="19.6" textLength="29.8" lengthAdjust="spacingAndGlyphs">Sell</text>
<text x="749.2" y="270.8" fill="#26a69a" font-size="19.6" textLength="31.4" lengthAdjust="spacingAndGlyphs">Buy</text>
<text x="749.2" y="284.3" fill="#26a69a" font-size="19.6" textLength="31.4" lengthAdjust="spacingAndGlyphs">Buy</text>
<text x="799.8" y="275.3" fill="#ef5350" font-size="19.6" textLength="29.8" lengthAdjust="spacingAndGlyphs">Sell</text>
<text x="799.1" y="337.0" fill="#26a69a" font-size="19.6" textLength="31.4" lengthAdjust="spacingAndGlyphs">Buy</text>
<text x="799.1" y="345.3" fill="#26a69a" font-size="19.6" textLength="31.4" lengthAdjust="spacingAndGlyphs">Buy</text>
<text x="820.2" y="471.3" fill="#ef5350" font-size="19.6" textLength="29.8" lengthAdjust="spacingAndGlyphs">Sell</text>
<text x="820.8" y="542.4" fill="#26a69a" font-size="19.6" textLength="31.4" lengthAdjust="spacingAndGlyphs">Buy</text>
<text x="820.8" y="562.9" fill="#26a69a" font-size="19.6" textLength="31.4" lengthAdjust="spacingAndGlyphs">Buy</text>
<text x="1062.7" y="399.3" fill="#26a69a" font-size="19.6" textLength="31.4" lengthAdjust="spacingAndGlyphs">Buy</text>
<text x="1062.2" y="373.3" fill="#ef5350" font-size="19.6" textLength="29.8" lengthAdjust="spacingAndGlyphs">Sell</text>
<text x="1246.9" y="259.8" fill="#ef5350" font-size="19.6" textLength="29.8" lengthAdjust="spacingAndGlyphs">Sell</text>
<text x="1247.4" y="298.3" fill="#26a69a" font-size="19.6" textLength="31.4" lengthAdjust="spacingAndGlyphs">Buy</text>
<text x="1247.4" y="306.5" fill="#26a69a" font-size="19.6" textLength="31.4" lengthAdjust="spacingAndGlyphs">Buy</text>
<text x="1261.2" y="221.3" fill="#ef5350" font-size="19.6" textLength="29.8" lengthAdjust="spacingAndGlyphs">Sell</text>
<text x="1261.2" y="236.5" fill="#ef5350" font-size="19.6" textLength="29.8" lengthAdjust="spacingAndGlyphs">Sell</text>
<text x="1261.7" y="276.3" fill="#26a69a" font-size="19.6" textLength="31.4" lengthAdjust="spacingAndGlyphs">Buy</text>
<text x="1368.0" y="208.8" fill="#ef5350" font-size="19.6" textLength="29.8" lengthAdjust="spacingAndGlyphs">Sell</text>
<text x="1368.0" y="223.1" fill="#ef5350" font-size="19.6" textLength="29.8" lengthAdjust="spacingAndGlyphs">Sell</text>
<text x="1368.5" y="263.8" fill="#26a69a" font-size="19.6" textLength="31.4" lengthAdjust="spacingAndGlyphs">Buy</text>
<text x="1445.8" y="423.8" fill="#ef5350" font-size="19.6" textLength="29.8" lengthAdjust="spacingAndGlyphs">Sell</text>
<text x="1450.3" y="494.8" fill="#26a69a" font-size="19.6" textLength="31.4" lengthAdjust="spacingAndGlyphs">Buy</text>
<text x="1450.3" y="512.3" fill="#26a69a" font-size="19.6" textLength="31.4" lengthAdjust="spacingAndGlyphs">Buy</text>
<text x="1474.4" y="465.8" fill="#ef5350" font-size="19.6" textLength="29.8" lengthAdjust="spacingAndGlyphs">Sell</text>
<text x="1488.3" y="544.8" fill="#26a69a" font-size="19.6" textLength="31.4" lengthAdjust="spacingAndGlyphs">Buy</text>
<text x="1503.5" y="577.8" fill="#26a69a" font-size="19.6" textLength="31.4" lengthAdjust="spacingAndGlyphs">Buy</text>
<text x="1581.3" y="491.8" fill="#ef5350" font-size="19.6" textLength="29.8" lengthAdjust="spacingAndGlyphs">Sell</text>
<text x="1603.0" y="480.8" fill="#26a69a" font-size="19.6" textLength="31.4" lengthAdjust="spacingAndGlyphs">Buy</text>
<text x="1609.6" y="405.4" fill="#ef5350" font-size="19.6" textLength="29.8" lengthAdjust="spacingAndGlyphs">Sell</text>
<text x="1609.6" y="416.8" fill="#ef5350" font-size="19.6" textLength="29.8" lengthAdjust="spacingAndGlyphs">Sell</text>
<text x="1610.1" y="454.3" fill="#26a69a" font-size="19.6" textLength="31.4" lengthAdjust="spacingAndGlyphs">Buy</text>
<text x="1752.3" y="657.8" fill="#26a69a" font-size="19.6" textLength="31.4" lengthAdjust="spacingAndGlyphs">Buy</text>
<text x="1744.8" y="643.8" fill="#ef5350" font-size="19.6" textLength="29.8" lengthAdjust="spacingAndGlyphs">Sell</text>
<text x="1794.2" y="683.8" fill="#ef5350" font-size="19.6" textLength="29.8" lengthAdjust="spacingAndGlyphs">Sell</text>
<text x="1809.3" y="736.8" fill="#26a69a" font-size="19.6" textLength="31.4" lengthAdjust="spacingAndGlyphs">Buy</text>
<text x="1809.3" y="755.0" fill="#26a69a" font-size="19.6" textLength="31.4" lengthAdjust="spacingAndGlyphs">Buy</text>
</g>
<path d="M114.3 251.4L127.7 265.7" stroke="#0000ff" stroke-width="1.8"/>
<path d="M457.1 130L462.7 140" stroke="#0000ff" stroke-width="1.8"/>
<path d="M441.7 143.9L441.7 166.8" stroke="#0000ff" stroke-width="1.8"/>
<path d="M621.2 66.8L625.7 75.7" stroke="#0000ff" stroke-width="1.8"/>
<path d="M683.7 170.5L683.7 185.6" stroke="#0000ff" stroke-width="1.8"/>
<path d="M782.7 266.4L789.8 316.3" stroke="#0000ff" stroke-width="1.8"/>
<path d="M812 289.6L797.1 609.1" stroke="#0000ff" stroke-width="1.8"/>
<path d="M1359.2 236L1359.2 252" stroke="#0000ff" stroke-width="1.8"/>
<path d="M1785.7 679.8L1785.7 729.8" stroke="#0000ff" stroke-width="1.8"/>
<path d="M1977.2 725.3L1984.3 757.4" stroke="#0000ff" stroke-width="1.8"/>
<path d="M492.5 146L497 140" stroke="#0000ff" stroke-width="1.8"/>
<path d="M135.7 260.4L193 280" stroke="#ef5350" stroke-width="1.6"/>
<path d="M10.5 352.0 L15.0 350.0 L45.0 343.0 L65.0 340.0 L135.4 341.0 L215.6 339.5 L260.8 337.0 L295.9 328.5 L341.0 323.5 L361.0 318.5 L391.2 306.0 L426.3 292.4 L461.4 273.3 L491.5 258.3 L521.6 245.7 L551.7 230.7 L581.7 218.2 L611.8 205.6 L640.0 200.8 L673.9 188.3 L693.5 187.4 L711.4 187.4 L750.6 183.8 L786.3 183.8 L798.8 185.6 L818.4 194.5 L845.1 201.7 L880.8 206.1 L904.0 217.7 L925.4 223.1 L966.4 235.6 L989.6 239.1 L999.6 238.4 L1015.7 243.7 L1038.9 253.5 L1069.2 266.0 L1096.0 276.7 L1122.7 289.2 L1158.4 301.7 L1176.2 307.0 L1211.9 317.7 L1247.6 328.4 L1283.2 337.4 L1318.9 344.5 L1340.0 348.0 L1360.0 349.2 L1380.0 349.6 L1394.3 347.8 L1399.6 343.9 L1415.7 342.1 L1440.6 342.1 L1451.4 345.6 L1476.3 352.2 L1504.9 352.8 L1520.9 356.3 L1540.5 359.4 L1562.0 359.9 L1585.1 366.5 L1606.5 370.6 L1640.4 371.0 L1663.6 376.0 L1699.3 381.7 L1722.5 387.0 L1735.7 391.4 L1751.7 401.2 L1776.7 414.6 L1796.3 428.9 L1810.6 440.5 L1824.9 452.0 L1839.1 464.5 L1851.6 477.0 L1869.5 490.4 L1887.3 500.2 L1901.6 508.2 L1914.1 517.2 L1931.9 528.8 L1952.2 546.8 L1966.5 558.4 L1983.4 571.7" stroke="#0000ff" stroke-width="1.85" fill="none" stroke-linejoin="round"/>
<path d="M10.5 368.0 L15.0 365.0 L45.0 343.5 L75.0 321.0 L100.0 306.0 L135.4 287.0 L165.5 273.3 L200.6 268.3 L235.7 260.8 L264.8 256.5 L300.9 250.0 L335.0 244.0 L366.0 228.2 L401.2 224.8 L421.4 224.8 L441.5 218.0 L461.5 207.0 L478.3 191.3 L508.4 176.8 L519.5 169.0 L538.5 153.4 L551.5 142.5 L566.0 130.2 L584.9 122.4 L607.2 114.6 L629.5 107.9 L652.9 99.8 L673.0 99.8 L680.0 104.0 L690.3 114.7 L711.4 129.4 L750.6 160.6 L772.0 183.0 L784.5 197.2 L795.2 220.0 L811.2 256.5 L825.5 286.0 L836.2 300.3 L850.5 316.3 L864.8 325.2 L879.0 336.0 L893.0 357.0 L902.0 376.0 L911.2 388.5 L925.5 403.7 L938.0 410.0 L950.5 403.7 L964.8 395.7 L977.2 385.9 L986.2 381.4 L1007.6 381.4 L1018.3 384.0 L1030.8 390.3 L1043.2 382.5 L1057.5 375.2 L1064.0 373.0 L1080.3 373.0 L1099.9 375.6 L1124.9 377.0 L1146.3 377.4 L1165.9 372.0 L1185.5 356.0 L1206.9 340.8 L1226.5 323.0 L1249.7 303.4 L1267.6 293.6 L1278.0 286.8 L1290.0 286.8 L1294.1 288.6 L1299.5 286.8 L1306.6 287.4 L1326.2 293.1 L1342.3 295.8 L1394.0 296.3 L1399.6 297.0 L1408.4 303.0 L1422.6 318.2 L1438.9 326.4 L1454.9 338.9 L1469.2 353.1 L1483.5 367.4 L1492.4 379.9 L1504.9 406.0 L1519.0 426.0 L1532.5 443.0 L1549.5 461.7 L1563.7 471.5 L1579.8 475.6 L1604.8 473.9 L1626.2 467.1 L1647.6 456.0 L1665.4 451.9 L1686.8 457.8 L1717.1 459.1 L1722.5 462.6 L1740.0 486.7 L1761.4 520.0 L1779.2 546.8 L1797.0 577.1 L1814.9 607.4 L1830.9 636.0 L1839.8 653.8 L1847.0 672.0 L1855.9 689.6 L1866.6 703.0 L1877.3 711.0 L1890.0 717.5 L1904.5 719.5 L1907.8 722.9 L1915.6 727.9 L1920.1 731.8 L1926.8 732.9 L1934.6 735.7 L1940.2 739.1 L1948.0 742.4 L1949.5 744.3 L1968.0 744.3 L1969.5 745.7 L1973.1 745.7 L1974.7 744.3 L1984.3 744.3" stroke="#ff0000" stroke-width="1.85" fill="none" stroke-linejoin="round"/>
<path d="M10 712.3H2484" stroke="#ff0000" stroke-width="1.85"/>
<path d="M10 719.3H2484" stroke="#ff0000" stroke-width="1.85"/>
<path d="M10 751.3H2484" stroke="#ff0000" stroke-width="1.85"/>
<path d="M10 754.6H2484" stroke="#ff0000" stroke-width="1.85"/>
<path d="M10 791.8H2484" stroke="#ff0000" stroke-width="1.85"/>
<path d="M10 740.4H2476" stroke="#6b9cf2" stroke-width="1.9"/>
</g>
<rect x="9" y="0" width="1.9" height="886" fill="#333333"/>
<rect x="9" y="0" width="2468" height="1.7" fill="#333333"/>
<rect x="2474.6" y="0" width="2.2" height="886" fill="#333333"/>
<rect x="9" y="883.2" width="2468" height="2.2" fill="#333333"/>
<rect x="14.1" y="884" width="2" height="5" fill="#333333"/>
<rect x="127.9" y="884" width="2" height="5" fill="#333333"/>
<rect x="241.7" y="884" width="2" height="5" fill="#333333"/>
<rect x="355.4" y="884" width="2" height="5" fill="#333333"/>
<rect x="469.2" y="884" width="2" height="5" fill="#333333"/>
<rect x="583.0" y="884" width="2" height="5" fill="#333333"/>
<rect x="696.8" y="884" width="2" height="5" fill="#333333"/>
<rect x="810.5" y="884" width="2" height="5" fill="#333333"/>
<rect x="924.3" y="884" width="2" height="5" fill="#333333"/>
<rect x="1038.1" y="884" width="2" height="5" fill="#333333"/>
<rect x="1151.9" y="884" width="2" height="5" fill="#333333"/>
<rect x="1265.7" y="884" width="2" height="5" fill="#333333"/>
<rect x="1379.4" y="884" width="2" height="5" fill="#333333"/>
<rect x="1493.2" y="884" width="2" height="5" fill="#333333"/>
<rect x="1607.0" y="884" width="2" height="5" fill="#333333"/>
<rect x="1720.8" y="884" width="2" height="5" fill="#333333"/>
<rect x="1834.5" y="884" width="2" height="5" fill="#333333"/>
<rect x="1948.3" y="884" width="2" height="5" fill="#333333"/>
<rect x="2476" y="49.6" width="4.2" height="2" fill="#333333"/>
<text x="2485.3" y="57.3" fill="#2e2e33" font-size="19.6" textLength="68.6" lengthAdjust="spacingAndGlyphs">251.230</text>
<rect x="2476" y="107.7" width="4.2" height="2" fill="#333333"/>
<text x="2485.3" y="115.4" fill="#2e2e33" font-size="19.6" textLength="68.6" lengthAdjust="spacingAndGlyphs">247.835</text>
<rect x="2476" y="164.6" width="4.2" height="2" fill="#333333"/>
<text x="2485.3" y="172.3" fill="#2e2e33" font-size="19.6" textLength="68.6" lengthAdjust="spacingAndGlyphs">244.440</text>
<rect x="2476" y="221.8" width="4.2" height="2" fill="#333333"/>
<text x="2485.3" y="229.5" fill="#2e2e33" font-size="19.6" textLength="68.6" lengthAdjust="spacingAndGlyphs">241.045</text>
<rect x="2476" y="278.7" width="4.2" height="2" fill="#333333"/>
<text x="2485.3" y="286.4" fill="#2e2e33" font-size="19.6" textLength="68.6" lengthAdjust="spacingAndGlyphs">237.650</text>
<rect x="2476" y="335.6" width="4.2" height="2" fill="#333333"/>
<text x="2485.3" y="343.3" fill="#2e2e33" font-size="19.6" textLength="68.6" lengthAdjust="spacingAndGlyphs">234.255</text>
<rect x="2476" y="392.5" width="4.2" height="2" fill="#333333"/>
<text x="2485.3" y="400.2" fill="#2e2e33" font-size="19.6" textLength="68.6" lengthAdjust="spacingAndGlyphs">230.860</text>
<rect x="2476" y="449.4" width="4.2" height="2" fill="#333333"/>
<text x="2485.3" y="457.1" fill="#2e2e33" font-size="19.6" textLength="68.6" lengthAdjust="spacingAndGlyphs">227.465</text>
<rect x="2476" y="506.3" width="4.2" height="2" fill="#333333"/>
<text x="2485.3" y="514.0" fill="#2e2e33" font-size="19.6" textLength="68.6" lengthAdjust="spacingAndGlyphs">224.070</text>
<rect x="2476" y="563.3" width="4.2" height="2" fill="#333333"/>
<text x="2485.3" y="571.0" fill="#2e2e33" font-size="19.6" textLength="68.6" lengthAdjust="spacingAndGlyphs">220.675</text>
<rect x="2476" y="620.2" width="4.2" height="2" fill="#333333"/>
<text x="2485.3" y="627.9" fill="#2e2e33" font-size="19.6" textLength="68.6" lengthAdjust="spacingAndGlyphs">217.280</text>
<rect x="2476" y="677.0" width="4.2" height="2" fill="#333333"/>
<text x="2485.3" y="684.7" fill="#2e2e33" font-size="19.6" textLength="68.6" lengthAdjust="spacingAndGlyphs">213.885</text>
<rect x="2476" y="733.9" width="4.2" height="2" fill="#333333"/>
<text x="2485.3" y="741.6" fill="#2e2e33" font-size="19.6" textLength="68.6" lengthAdjust="spacingAndGlyphs">210.490</text>
<rect x="2476" y="790.8" width="4.2" height="2" fill="#333333"/>
<text x="2485.3" y="798.5" fill="#2e2e33" font-size="19.6" textLength="68.6" lengthAdjust="spacingAndGlyphs">207.095</text>
<rect x="2476" y="847.7" width="4.2" height="2" fill="#333333"/>
<text x="2485.3" y="855.4" fill="#2e2e33" font-size="19.6" textLength="68.6" lengthAdjust="spacingAndGlyphs">203.700</text>
<path d="M2476.5 712.3H2484" stroke="#ff0000" stroke-width="1.85"/>
<path d="M2476.5 719.3H2484" stroke="#ff0000" stroke-width="1.85"/>
<path d="M2476.5 751.3H2484" stroke="#ff0000" stroke-width="1.85"/>
<path d="M2476.5 754.6H2484" stroke="#ff0000" stroke-width="1.85"/>
<path d="M2476.5 791.8H2484" stroke="#ff0000" stroke-width="1.85"/>
<path d="M2476 572.7H2484" stroke="#0000ff" stroke-width="1.8"/>
<rect x="2483.6" y="560.1" width="72.6" height="24.8" fill="#0000ff"/>
<text x="2486" y="579.3" fill="#fff" font-size="19.6" textLength="67.8" lengthAdjust="spacingAndGlyphs">220.059</text>
<rect x="2483.6" y="698.8" width="72.6" height="24.8" fill="#ff0000"/>
<text x="2486" y="718.0" fill="#fff" font-size="19.6" textLength="67.8" lengthAdjust="spacingAndGlyphs">211.797</text>
<rect x="2483.6" y="705.9" width="72.6" height="24.8" fill="#ff0000"/>
<text x="2486" y="725.1" fill="#fff" font-size="19.6" textLength="67.8" lengthAdjust="spacingAndGlyphs">211.379</text>
<rect x="2483.6" y="737.9" width="72.6" height="24.8" fill="#ff0000"/>
<text x="2486" y="757.1" fill="#fff" font-size="19.6" textLength="67.8" lengthAdjust="spacingAndGlyphs">209.513</text>
<rect x="2483.6" y="741.2" width="72.6" height="24.8" fill="#ff0000"/>
<text x="2486" y="760.4" fill="#fff" font-size="19.6" textLength="67.8" lengthAdjust="spacingAndGlyphs">209.316</text>
<rect x="2483.6" y="778.6" width="72.6" height="24.8" fill="#ff0000"/>
<text x="2486" y="797.8" fill="#fff" font-size="19.6" textLength="67.8" lengthAdjust="spacingAndGlyphs">207.092</text>
<path d="M2476 740.2H2484" stroke="#222" stroke-width="1.8"/>
<path d="M2477 743.6H2484" stroke="#ff0000" stroke-width="1.8"/>
<rect x="2483.6" y="727.5" width="72.6" height="24.8" fill="#2b2b2b"/>
<text x="2486" y="746.7" fill="#fff" font-size="19.6" textLength="67.8" lengthAdjust="spacingAndGlyphs">210.180</text>
<rect x="11.5" y="5.6" width="385" height="25.8" fill="#fff"/>
<text x="15.9" y="24.6" fill="#1c1c1c" stroke="#1c1c1c" stroke-width="0.25" font-size="19" textLength="71.2" lengthAdjust="spacingAndGlyphs">GBPJPY</text>
<text x="86.5" y="24.6" fill="#1c1c1c" stroke="#1c1c1c" stroke-width="0.25" font-size="19">、</text>
<text x="101.7" y="24.6" fill="#1c1c1c" stroke="#1c1c1c" stroke-width="0.25" font-size="19" textLength="39.6" lengthAdjust="spacingAndGlyphs">Daily</text>
<text x="141" y="24.6" fill="#1c1c1c" stroke="#1c1c1c" stroke-width="0.25" font-size="19">、</text>
<text x="155.5" y="24.6" fill="#1c1c1c" stroke="#1c1c1c" stroke-width="0.25" font-size="19" textLength="35.5" lengthAdjust="spacingAndGlyphs">セル</text>
<text x="194.2" y="24.6" fill="#1c1c1c" stroke="#1c1c1c" stroke-width="0.25" font-size="19">:</text>
<text x="203.4" y="24.6" fill="#1c1c1c" stroke="#1c1c1c" stroke-width="0.25" font-size="19" textLength="41.2" lengthAdjust="spacingAndGlyphs">3395</text>
<text x="244" y="24.6" fill="#1c1c1c" stroke="#1c1c1c" stroke-width="0.25" font-size="19">、</text>
<text x="259" y="24.6" fill="#1c1c1c" stroke="#1c1c1c" stroke-width="0.25" font-size="19" textLength="68.5" lengthAdjust="spacingAndGlyphs">スケール</text>
<text x="329.8" y="24.6" fill="#1c1c1c" stroke="#1c1c1c" stroke-width="0.25" font-size="19">:</text>
<text x="340.4" y="24.6" fill="#1c1c1c" stroke="#1c1c1c" stroke-width="0.25" font-size="19" textLength="27.5" lengthAdjust="spacingAndGlyphs">100</text>
<text x="375.7" y="24.6" fill="#1c1c1c" stroke="#1c1c1c" stroke-width="0.25" font-size="19" textLength="16.4" lengthAdjust="spacingAndGlyphs">%</text>
<text x="15.9" y="906.1" fill="#2e2e33" font-size="14.4" textLength="70.5" lengthAdjust="spacingAndGlyphs">11 Apr 2007</text>
<text x="129.7" y="906.1" fill="#2e2e33" font-size="14.4" textLength="75.5" lengthAdjust="spacingAndGlyphs">30 Apr 00:00</text>
<text x="243.5" y="906.1" fill="#2e2e33" font-size="14.4" textLength="75.5" lengthAdjust="spacingAndGlyphs">18 May 00:00</text>
<text x="357.2" y="906.1" fill="#2e2e33" font-size="14.4" textLength="67" lengthAdjust="spacingAndGlyphs">6 Jun 00:00</text>
<text x="471.0" y="906.1" fill="#2e2e33" font-size="14.4" textLength="75.5" lengthAdjust="spacingAndGlyphs">25 Jun 00:00</text>
<text x="584.8" y="906.1" fill="#2e2e33" font-size="14.4" textLength="75.5" lengthAdjust="spacingAndGlyphs">13 Jul 00:00</text>
<text x="698.6" y="906.1" fill="#2e2e33" font-size="14.4" textLength="67" lengthAdjust="spacingAndGlyphs">1 Aug 00:00</text>
<text x="812.4" y="906.1" fill="#2e2e33" font-size="14.4" textLength="75.5" lengthAdjust="spacingAndGlyphs">20 Aug 00:00</text>
<text x="926.1" y="906.1" fill="#2e2e33" font-size="14.4" textLength="67" lengthAdjust="spacingAndGlyphs">7 Sep 00:00</text>
<text x="1039.9" y="906.1" fill="#2e2e33" font-size="14.4" textLength="75.5" lengthAdjust="spacingAndGlyphs">26 Sep 00:00</text>
<text x="1153.7" y="906.1" fill="#2e2e33" font-size="14.4" textLength="75.5" lengthAdjust="spacingAndGlyphs">15 Oct 00:00</text>
<text x="1267.5" y="906.1" fill="#2e2e33" font-size="14.4" textLength="67" lengthAdjust="spacingAndGlyphs">2 Nov 00:00</text>
<text x="1381.3" y="906.1" fill="#2e2e33" font-size="14.4" textLength="75.5" lengthAdjust="spacingAndGlyphs">21 Nov 00:00</text>
<text x="1495.0" y="906.1" fill="#2e2e33" font-size="14.4" textLength="75.5" lengthAdjust="spacingAndGlyphs">10 Dec 00:00</text>
<text x="1608.8" y="906.1" fill="#2e2e33" font-size="14.4" textLength="75.5" lengthAdjust="spacingAndGlyphs">28 Dec 00:00</text>
<text x="1722.6" y="906.1" fill="#2e2e33" font-size="14.4" textLength="75.5" lengthAdjust="spacingAndGlyphs">16 Jan 00:00</text>
<text x="1836.4" y="906.1" fill="#2e2e33" font-size="14.4" textLength="75.5" lengthAdjust="spacingAndGlyphs">16 Feb 00:00</text>
<text x="1950.2" y="906.1" fill="#2e2e33" font-size="14.4" textLength="67" lengthAdjust="spacingAndGlyphs">5 Mar 00:00</text>
</svg></body></html>
